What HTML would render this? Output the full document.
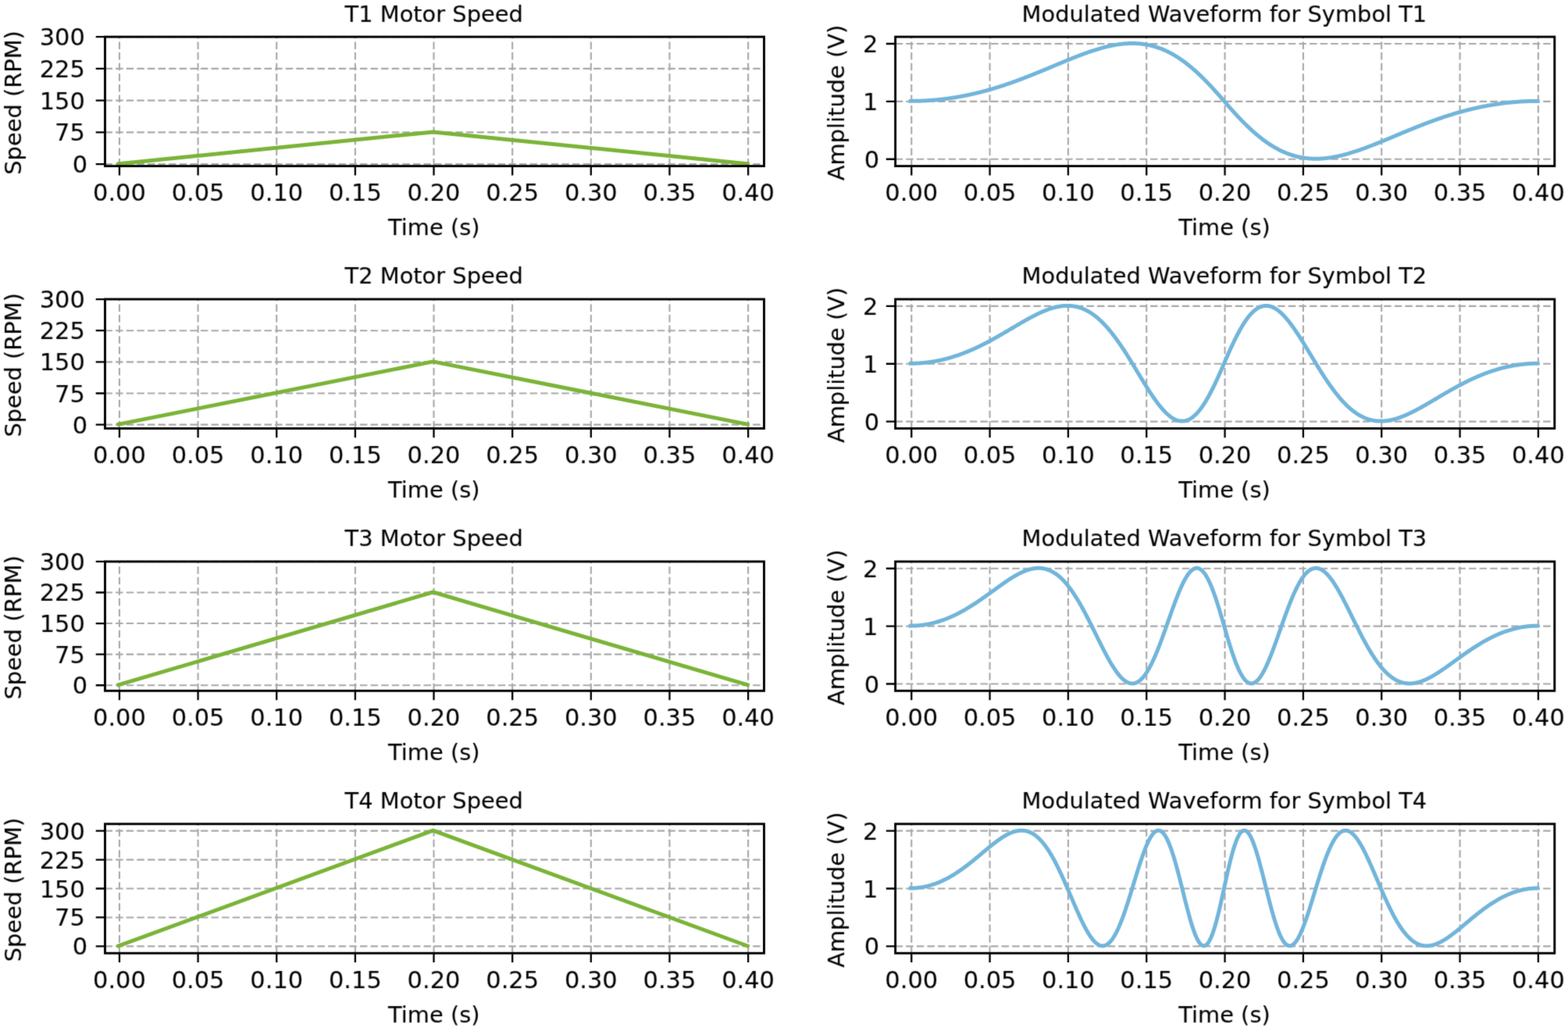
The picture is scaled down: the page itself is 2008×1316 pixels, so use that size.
<!DOCTYPE html>
<html><head><meta charset="utf-8"><title>Motor Speed and Modulated Waveforms</title>
<style>html,body{margin:0;padding:0;background:#fff;width:2008px;height:1316px;overflow:hidden}svg{display:block}</style>
</head><body><div id="w">
<svg width="2008" height="1316" viewBox="0 0 2008 1316" style="font-family:'DejaVu Sans','Liberation Sans',sans-serif">
<defs><filter id="bl" x="0" y="0" width="2008" height="1316" filterUnits="userSpaceOnUse" color-interpolation-filters="sRGB"><feConvolveMatrix order="3" kernelMatrix="0.01134 0.08382 0.01134 0.08382 0.61935 0.08382 0.01134 0.08382 0.01134" edgeMode="none" preserveAlpha="false"/></filter>
<filter id="tb" x="0" y="0" width="2008" height="1316" filterUnits="userSpaceOnUse" color-interpolation-filters="sRGB"><feConvolveMatrix order="3" kernelMatrix="0.02768 0.11101 0.02768 0.11101 0.44521 0.11101 0.02768 0.11101 0.02768" edgeMode="none" preserveAlpha="false"/></filter></defs>
<rect width="2008" height="1316" fill="#fff"/>
<g filter="url(#bl)">
<path d="M152.95 212.6V47.15M253.59 212.6V47.15M354.24 212.6V47.15M454.88 212.6V47.15M555.53 212.6V47.15M656.17 212.6V47.15M756.81 212.6V47.15M857.46 212.6V47.15M958.1 212.6V47.15M134.5 210.15H978.45M134.5 169.4H978.45M134.5 128.65H978.45M134.5 87.9H978.45M134.5 47.15H978.45" stroke="#a9a9a9" stroke-width="2.1" stroke-dasharray="9.5,4.1" fill="none"/>
<clipPath id="c00"><rect x="134.5" y="47.15" width="843.95" height="165.45"/></clipPath>
<path d="M151.95 209.65 L554.53 168.9 L957.1 209.65" stroke="#7bb438" stroke-width="5" stroke-opacity="1" fill="none" stroke-linecap="square" stroke-linejoin="round" clip-path="url(#c00)"/>
<rect x="134.5" y="47.15" width="843.95" height="165.45" fill="none" stroke="#000" stroke-width="2.9" stroke-linejoin="miter"/>
<path d="M152.95 212.6v11.8M253.59 212.6v11.8M354.24 212.6v11.8M454.88 212.6v11.8M555.53 212.6v11.8M656.17 212.6v11.8M756.81 212.6v11.8M857.46 212.6v11.8M958.1 212.6v11.8M134.5 210.15h-11.8M134.5 169.4h-11.8M134.5 128.65h-11.8M134.5 87.9h-11.8M134.5 47.15h-11.8" stroke="#000" stroke-width="2.3" fill="none"/>
<path d="M1167.25 212.6V47.15M1267.58 212.6V47.15M1367.91 212.6V47.15M1468.24 212.6V47.15M1568.58 212.6V47.15M1668.91 212.6V47.15M1769.24 212.6V47.15M1869.57 212.6V47.15M1969.9 212.6V47.15M1146.6 203.74H1990.8M1146.6 129.88H1990.8M1146.6 56.01H1990.8" stroke="#a9a9a9" stroke-width="2.1" stroke-dasharray="9.5,4.1" fill="none"/>
<clipPath id="c01"><rect x="1146.6" y="47.15" width="844.2" height="165.45"/></clipPath>
<path d="M1166.25 129.38 L1167.05 129.37 L1167.86 129.37 L1168.66 129.37 L1169.46 129.36 L1170.26 129.35 L1171.07 129.34 L1171.87 129.33 L1172.67 129.32 L1173.47 129.3 L1174.28 129.28 L1175.08 129.26 L1175.88 129.24 L1176.68 129.22 L1177.49 129.19 L1178.29 129.17 L1179.09 129.14 L1179.9 129.11 L1180.7 129.07 L1181.5 129.04 L1182.3 129 L1183.11 128.97 L1183.91 128.93 L1184.71 128.88 L1185.51 128.84 L1186.32 128.79 L1187.12 128.75 L1187.92 128.7 L1188.72 128.65 L1189.53 128.59 L1190.33 128.54 L1191.13 128.48 L1191.93 128.42 L1192.74 128.36 L1193.54 128.3 L1194.34 128.24 L1195.15 128.17 L1195.95 128.1 L1196.75 128.03 L1197.55 127.96 L1198.36 127.89 L1199.16 127.81 L1199.96 127.74 L1200.76 127.66 L1201.57 127.58 L1202.37 127.5 L1203.17 127.41 L1203.97 127.32 L1204.78 127.24 L1205.58 127.15 L1206.38 127.05 L1207.19 126.96 L1207.99 126.87 L1208.79 126.77 L1209.59 126.67 L1210.4 126.57 L1211.2 126.47 L1212 126.36 L1212.8 126.25 L1213.61 126.15 L1214.41 126.03 L1215.21 125.92 L1216.01 125.81 L1216.82 125.69 L1217.62 125.57 L1218.42 125.46 L1219.22 125.33 L1220.03 125.21 L1220.83 125.09 L1221.63 124.96 L1222.44 124.83 L1223.24 124.7 L1224.04 124.57 L1224.84 124.43 L1225.65 124.3 L1226.45 124.16 L1227.25 124.02 L1228.05 123.88 L1228.86 123.73 L1229.66 123.59 L1230.46 123.44 L1231.26 123.29 L1232.07 123.14 L1232.87 122.99 L1233.67 122.83 L1234.48 122.68 L1235.28 122.52 L1236.08 122.36 L1236.88 122.2 L1237.69 122.04 L1238.49 121.87 L1239.29 121.7 L1240.09 121.53 L1240.9 121.36 L1241.7 121.19 L1242.5 121.02 L1243.3 120.84 L1244.11 120.66 L1244.91 120.48 L1245.71 120.3 L1246.52 120.12 L1247.32 119.93 L1248.12 119.75 L1248.92 119.56 L1249.73 119.37 L1250.53 119.17 L1251.33 118.98 L1252.13 118.78 L1252.94 118.59 L1253.74 118.39 L1254.54 118.19 L1255.34 117.98 L1256.15 117.78 L1256.95 117.57 L1257.75 117.37 L1258.55 117.16 L1259.36 116.94 L1260.16 116.73 L1260.96 116.52 L1261.77 116.3 L1262.57 116.08 L1263.37 115.86 L1264.17 115.64 L1264.98 115.42 L1265.78 115.19 L1266.58 114.97 L1267.38 114.74 L1268.19 114.51 L1268.99 114.28 L1269.79 114.04 L1270.59 113.81 L1271.4 113.57 L1272.2 113.33 L1273 113.09 L1273.81 112.85 L1274.61 112.61 L1275.41 112.36 L1276.21 112.12 L1277.02 111.87 L1277.82 111.62 L1278.62 111.37 L1279.42 111.11 L1280.23 110.86 L1281.03 110.6 L1281.83 110.35 L1282.63 110.09 L1283.44 109.83 L1284.24 109.56 L1285.04 109.3 L1285.84 109.03 L1286.65 108.77 L1287.45 108.5 L1288.25 108.23 L1289.06 107.96 L1289.86 107.69 L1290.66 107.41 L1291.46 107.14 L1292.27 106.86 L1293.07 106.58 L1293.87 106.3 L1294.67 106.02 L1295.48 105.74 L1296.28 105.46 L1297.08 105.17 L1297.88 104.88 L1298.69 104.6 L1299.49 104.31 L1300.29 104.02 L1301.1 103.72 L1301.9 103.43 L1302.7 103.14 L1303.5 102.84 L1304.31 102.54 L1305.11 102.25 L1305.91 101.95 L1306.71 101.65 L1307.52 101.34 L1308.32 101.04 L1309.12 100.74 L1309.92 100.43 L1310.73 100.13 L1311.53 99.82 L1312.33 99.51 L1313.13 99.2 L1313.94 98.89 L1314.74 98.58 L1315.54 98.27 L1316.35 97.95 L1317.15 97.64 L1317.95 97.32 L1318.75 97.01 L1319.56 96.69 L1320.36 96.37 L1321.16 96.05 L1321.96 95.73 L1322.77 95.41 L1323.57 95.09 L1324.37 94.76 L1325.17 94.44 L1325.98 94.12 L1326.78 93.79 L1327.58 93.47 L1328.39 93.14 L1329.19 92.81 L1329.99 92.48 L1330.79 92.16 L1331.6 91.83 L1332.4 91.5 L1333.2 91.17 L1334 90.84 L1334.81 90.51 L1335.61 90.17 L1336.41 89.84 L1337.21 89.51 L1338.02 89.18 L1338.82 88.84 L1339.62 88.51 L1340.43 88.17 L1341.23 87.84 L1342.03 87.51 L1342.83 87.17 L1343.64 86.84 L1344.44 86.5 L1345.24 86.16 L1346.04 85.83 L1346.85 85.49 L1347.65 85.16 L1348.45 84.82 L1349.25 84.48 L1350.06 84.15 L1350.86 83.81 L1351.66 83.48 L1352.46 83.14 L1353.27 82.8 L1354.07 82.47 L1354.87 82.13 L1355.68 81.8 L1356.48 81.46 L1357.28 81.13 L1358.08 80.79 L1358.89 80.46 L1359.69 80.13 L1360.49 79.79 L1361.29 79.46 L1362.1 79.13 L1362.9 78.8 L1363.7 78.47 L1364.5 78.13 L1365.31 77.8 L1366.11 77.48 L1366.91 77.15 L1367.72 76.82 L1368.52 76.49 L1369.32 76.17 L1370.12 75.84 L1370.93 75.52 L1371.73 75.19 L1372.53 74.87 L1373.33 74.55 L1374.14 74.23 L1374.94 73.91 L1375.74 73.59 L1376.54 73.27 L1377.35 72.96 L1378.15 72.64 L1378.95 72.33 L1379.75 72.02 L1380.56 71.71 L1381.36 71.4 L1382.16 71.09 L1382.97 70.79 L1383.77 70.48 L1384.57 70.18 L1385.37 69.88 L1386.18 69.58 L1386.98 69.28 L1387.78 68.98 L1388.58 68.69 L1389.39 68.4 L1390.19 68.11 L1390.99 67.82 L1391.79 67.53 L1392.6 67.25 L1393.4 66.97 L1394.2 66.69 L1395.01 66.41 L1395.81 66.13 L1396.61 65.86 L1397.41 65.59 L1398.22 65.32 L1399.02 65.06 L1399.82 64.79 L1400.62 64.53 L1401.43 64.27 L1402.23 64.02 L1403.03 63.77 L1403.83 63.52 L1404.64 63.27 L1405.44 63.02 L1406.24 62.78 L1407.05 62.54 L1407.85 62.31 L1408.65 62.07 L1409.45 61.85 L1410.26 61.62 L1411.06 61.4 L1411.86 61.18 L1412.66 60.96 L1413.47 60.75 L1414.27 60.54 L1415.07 60.33 L1415.87 60.13 L1416.68 59.93 L1417.48 59.73 L1418.28 59.54 L1419.08 59.35 L1419.89 59.17 L1420.69 58.99 L1421.49 58.81 L1422.3 58.64 L1423.1 58.47 L1423.9 58.31 L1424.7 58.15 L1425.51 57.99 L1426.31 57.84 L1427.11 57.69 L1427.91 57.55 L1428.72 57.41 L1429.52 57.28 L1430.32 57.15 L1431.12 57.02 L1431.93 56.9 L1432.73 56.78 L1433.53 56.67 L1434.34 56.56 L1435.14 56.46 L1435.94 56.37 L1436.74 56.27 L1437.55 56.19 L1438.35 56.11 L1439.15 56.03 L1439.95 55.96 L1440.76 55.89 L1441.56 55.83 L1442.36 55.77 L1443.16 55.72 L1443.97 55.68 L1444.77 55.64 L1445.57 55.6 L1446.37 55.57 L1447.18 55.55 L1447.98 55.53 L1448.78 55.52 L1449.59 55.51 L1450.39 55.51 L1451.19 55.52 L1451.99 55.53 L1452.8 55.55 L1453.6 55.57 L1454.4 55.6 L1455.2 55.64 L1456.01 55.68 L1456.81 55.73 L1457.61 55.78 L1458.41 55.84 L1459.22 55.91 L1460.02 55.98 L1460.82 56.06 L1461.63 56.15 L1462.43 56.24 L1463.23 56.34 L1464.03 56.44 L1464.84 56.56 L1465.64 56.67 L1466.44 56.8 L1467.24 56.93 L1468.05 57.07 L1468.85 57.22 L1469.65 57.37 L1470.45 57.53 L1471.26 57.7 L1472.06 57.87 L1472.86 58.05 L1473.66 58.24 L1474.47 58.43 L1475.27 58.64 L1476.07 58.85 L1476.88 59.06 L1477.68 59.29 L1478.48 59.52 L1479.28 59.76 L1480.09 60 L1480.89 60.25 L1481.69 60.51 L1482.49 60.78 L1483.3 61.06 L1484.1 61.34 L1484.9 61.63 L1485.7 61.93 L1486.51 62.23 L1487.31 62.54 L1488.11 62.86 L1488.92 63.19 L1489.72 63.53 L1490.52 63.87 L1491.32 64.22 L1492.13 64.58 L1492.93 64.94 L1493.73 65.32 L1494.53 65.7 L1495.34 66.08 L1496.14 66.48 L1496.94 66.88 L1497.74 67.3 L1498.55 67.72 L1499.35 68.14 L1500.15 68.58 L1500.96 69.02 L1501.76 69.47 L1502.56 69.93 L1503.36 70.39 L1504.17 70.87 L1504.97 71.35 L1505.77 71.84 L1506.57 72.33 L1507.38 72.84 L1508.18 73.35 L1508.98 73.87 L1509.78 74.39 L1510.59 74.93 L1511.39 75.47 L1512.19 76.02 L1512.99 76.58 L1513.8 77.14 L1514.6 77.71 L1515.4 78.29 L1516.21 78.88 L1517.01 79.47 L1517.81 80.07 L1518.61 80.68 L1519.42 81.3 L1520.22 81.92 L1521.02 82.55 L1521.82 83.19 L1522.63 83.84 L1523.43 84.49 L1524.23 85.15 L1525.03 85.82 L1525.84 86.49 L1526.64 87.17 L1527.44 87.86 L1528.25 88.55 L1529.05 89.25 L1529.85 89.96 L1530.65 90.68 L1531.46 91.4 L1532.26 92.13 L1533.06 92.86 L1533.86 93.6 L1534.67 94.35 L1535.47 95.1 L1536.27 95.86 L1537.07 96.63 L1537.88 97.4 L1538.68 98.18 L1539.48 98.96 L1540.28 99.75 L1541.09 100.54 L1541.89 101.34 L1542.69 102.15 L1543.5 102.96 L1544.3 103.78 L1545.1 104.6 L1545.9 105.43 L1546.71 106.26 L1547.51 107.1 L1548.31 107.95 L1549.11 108.79 L1549.92 109.65 L1550.72 110.5 L1551.52 111.37 L1552.32 112.23 L1553.13 113.1 L1553.93 113.98 L1554.73 114.86 L1555.54 115.74 L1556.34 116.63 L1557.14 117.52 L1557.94 118.41 L1558.75 119.31 L1559.55 120.21 L1560.35 121.11 L1561.15 122.02 L1561.96 122.93 L1562.76 123.84 L1563.56 124.76 L1564.36 125.68 L1565.17 126.6 L1565.97 127.52 L1566.77 128.45 L1567.58 129.38 L1568.38 130.3 L1569.18 131.23 L1569.98 132.15 L1570.79 133.07 L1571.59 133.99 L1572.39 134.91 L1573.19 135.82 L1574 136.73 L1574.8 137.64 L1575.6 138.54 L1576.4 139.44 L1577.21 140.34 L1578.01 141.23 L1578.81 142.12 L1579.61 143.01 L1580.42 143.89 L1581.22 144.77 L1582.02 145.65 L1582.83 146.52 L1583.63 147.38 L1584.43 148.25 L1585.23 149.1 L1586.04 149.96 L1586.84 150.8 L1587.64 151.65 L1588.44 152.49 L1589.25 153.32 L1590.05 154.15 L1590.85 154.97 L1591.65 155.79 L1592.46 156.6 L1593.26 157.41 L1594.06 158.21 L1594.87 159 L1595.67 159.79 L1596.47 160.57 L1597.27 161.35 L1598.08 162.12 L1598.88 162.89 L1599.68 163.65 L1600.48 164.4 L1601.29 165.15 L1602.09 165.89 L1602.89 166.62 L1603.69 167.35 L1604.5 168.07 L1605.3 168.79 L1606.1 169.5 L1606.9 170.2 L1607.71 170.89 L1608.51 171.58 L1609.31 172.26 L1610.12 172.93 L1610.92 173.6 L1611.72 174.26 L1612.52 174.91 L1613.33 175.56 L1614.13 176.2 L1614.93 176.83 L1615.73 177.45 L1616.54 178.07 L1617.34 178.68 L1618.14 179.28 L1618.94 179.87 L1619.75 180.46 L1620.55 181.04 L1621.35 181.61 L1622.16 182.17 L1622.96 182.73 L1623.76 183.28 L1624.56 183.82 L1625.37 184.36 L1626.17 184.88 L1626.97 185.4 L1627.77 185.91 L1628.58 186.42 L1629.38 186.91 L1630.18 187.4 L1630.98 187.88 L1631.79 188.36 L1632.59 188.82 L1633.39 189.28 L1634.19 189.73 L1635 190.17 L1635.8 190.61 L1636.6 191.03 L1637.41 191.45 L1638.21 191.87 L1639.01 192.27 L1639.81 192.67 L1640.62 193.05 L1641.42 193.43 L1642.22 193.81 L1643.02 194.17 L1643.83 194.53 L1644.63 194.88 L1645.43 195.22 L1646.23 195.56 L1647.04 195.89 L1647.84 196.21 L1648.64 196.52 L1649.45 196.82 L1650.25 197.12 L1651.05 197.41 L1651.85 197.69 L1652.66 197.97 L1653.46 198.24 L1654.26 198.5 L1655.06 198.75 L1655.87 198.99 L1656.67 199.23 L1657.47 199.46 L1658.27 199.69 L1659.08 199.9 L1659.88 200.11 L1660.68 200.32 L1661.49 200.51 L1662.29 200.7 L1663.09 200.88 L1663.89 201.05 L1664.7 201.22 L1665.5 201.38 L1666.3 201.53 L1667.1 201.68 L1667.91 201.82 L1668.71 201.95 L1669.51 202.08 L1670.31 202.19 L1671.12 202.31 L1671.92 202.41 L1672.72 202.51 L1673.52 202.6 L1674.33 202.69 L1675.13 202.77 L1675.93 202.84 L1676.74 202.91 L1677.54 202.97 L1678.34 203.02 L1679.14 203.07 L1679.95 203.11 L1680.75 203.15 L1681.55 203.18 L1682.35 203.2 L1683.16 203.22 L1683.96 203.23 L1684.76 203.24 L1685.56 203.24 L1686.37 203.23 L1687.17 203.22 L1687.97 203.2 L1688.78 203.18 L1689.58 203.15 L1690.38 203.11 L1691.18 203.07 L1691.99 203.03 L1692.79 202.98 L1693.59 202.92 L1694.39 202.86 L1695.2 202.79 L1696 202.72 L1696.8 202.64 L1697.6 202.56 L1698.41 202.48 L1699.21 202.38 L1700.01 202.29 L1700.81 202.19 L1701.62 202.08 L1702.42 201.97 L1703.22 201.85 L1704.03 201.73 L1704.83 201.6 L1705.63 201.47 L1706.43 201.34 L1707.24 201.2 L1708.04 201.06 L1708.84 200.91 L1709.64 200.76 L1710.45 200.6 L1711.25 200.44 L1712.05 200.28 L1712.85 200.11 L1713.66 199.94 L1714.46 199.76 L1715.26 199.58 L1716.07 199.4 L1716.87 199.21 L1717.67 199.02 L1718.47 198.82 L1719.28 198.62 L1720.08 198.42 L1720.88 198.21 L1721.68 198 L1722.49 197.79 L1723.29 197.57 L1724.09 197.35 L1724.89 197.13 L1725.7 196.9 L1726.5 196.68 L1727.3 196.44 L1728.11 196.21 L1728.91 195.97 L1729.71 195.73 L1730.51 195.48 L1731.32 195.23 L1732.12 194.98 L1732.92 194.73 L1733.72 194.48 L1734.53 194.22 L1735.33 193.96 L1736.13 193.69 L1736.93 193.43 L1737.74 193.16 L1738.54 192.89 L1739.34 192.62 L1740.14 192.34 L1740.95 192.06 L1741.75 191.78 L1742.55 191.5 L1743.36 191.22 L1744.16 190.93 L1744.96 190.64 L1745.76 190.35 L1746.57 190.06 L1747.37 189.77 L1748.17 189.47 L1748.97 189.17 L1749.78 188.87 L1750.58 188.57 L1751.38 188.27 L1752.18 187.96 L1752.99 187.66 L1753.79 187.35 L1754.59 187.04 L1755.4 186.73 L1756.2 186.42 L1757 186.11 L1757.8 185.79 L1758.61 185.48 L1759.41 185.16 L1760.21 184.84 L1761.01 184.52 L1761.82 184.2 L1762.62 183.88 L1763.42 183.56 L1764.22 183.23 L1765.03 182.91 L1765.83 182.58 L1766.63 182.26 L1767.43 181.93 L1768.24 181.6 L1769.04 181.27 L1769.84 180.95 L1770.65 180.62 L1771.45 180.28 L1772.25 179.95 L1773.05 179.62 L1773.86 179.29 L1774.66 178.96 L1775.46 178.62 L1776.26 178.29 L1777.07 177.96 L1777.87 177.62 L1778.67 177.29 L1779.47 176.95 L1780.28 176.62 L1781.08 176.28 L1781.88 175.95 L1782.69 175.61 L1783.49 175.27 L1784.29 174.94 L1785.09 174.6 L1785.9 174.27 L1786.7 173.93 L1787.5 173.59 L1788.3 173.26 L1789.11 172.92 L1789.91 172.59 L1790.71 172.25 L1791.51 171.91 L1792.32 171.58 L1793.12 171.24 L1793.92 170.91 L1794.72 170.58 L1795.53 170.24 L1796.33 169.91 L1797.13 169.57 L1797.94 169.24 L1798.74 168.91 L1799.54 168.58 L1800.34 168.24 L1801.15 167.91 L1801.95 167.58 L1802.75 167.25 L1803.55 166.92 L1804.36 166.59 L1805.16 166.27 L1805.96 165.94 L1806.76 165.61 L1807.57 165.28 L1808.37 164.96 L1809.17 164.63 L1809.98 164.31 L1810.78 163.99 L1811.58 163.66 L1812.38 163.34 L1813.19 163.02 L1813.99 162.7 L1814.79 162.38 L1815.59 162.06 L1816.4 161.74 L1817.2 161.43 L1818 161.11 L1818.8 160.8 L1819.61 160.48 L1820.41 160.17 L1821.21 159.86 L1822.02 159.55 L1822.82 159.24 L1823.62 158.93 L1824.42 158.62 L1825.23 158.32 L1826.03 158.01 L1826.83 157.71 L1827.63 157.41 L1828.44 157.1 L1829.24 156.8 L1830.04 156.5 L1830.84 156.21 L1831.65 155.91 L1832.45 155.61 L1833.25 155.32 L1834.05 155.03 L1834.86 154.73 L1835.66 154.44 L1836.46 154.15 L1837.27 153.87 L1838.07 153.58 L1838.87 153.29 L1839.67 153.01 L1840.48 152.73 L1841.28 152.45 L1842.08 152.17 L1842.88 151.89 L1843.69 151.61 L1844.49 151.34 L1845.29 151.06 L1846.09 150.79 L1846.9 150.52 L1847.7 150.25 L1848.5 149.98 L1849.31 149.72 L1850.11 149.45 L1850.91 149.19 L1851.71 148.92 L1852.52 148.66 L1853.32 148.4 L1854.12 148.15 L1854.92 147.89 L1855.73 147.64 L1856.53 147.38 L1857.33 147.13 L1858.13 146.88 L1858.94 146.63 L1859.74 146.39 L1860.54 146.14 L1861.34 145.9 L1862.15 145.66 L1862.95 145.42 L1863.75 145.18 L1864.56 144.94 L1865.36 144.71 L1866.16 144.47 L1866.96 144.24 L1867.77 144.01 L1868.57 143.78 L1869.37 143.56 L1870.17 143.33 L1870.98 143.11 L1871.78 142.89 L1872.58 142.67 L1873.38 142.45 L1874.19 142.23 L1874.99 142.02 L1875.79 141.81 L1876.6 141.59 L1877.4 141.38 L1878.2 141.18 L1879 140.97 L1879.81 140.77 L1880.61 140.56 L1881.41 140.36 L1882.21 140.16 L1883.02 139.97 L1883.82 139.77 L1884.62 139.58 L1885.42 139.38 L1886.23 139.19 L1887.03 139 L1887.83 138.82 L1888.63 138.63 L1889.44 138.45 L1890.24 138.27 L1891.04 138.09 L1891.85 137.91 L1892.65 137.73 L1893.45 137.56 L1894.25 137.39 L1895.06 137.22 L1895.86 137.05 L1896.66 136.88 L1897.46 136.71 L1898.27 136.55 L1899.07 136.39 L1899.87 136.23 L1900.67 136.07 L1901.48 135.92 L1902.28 135.76 L1903.08 135.61 L1903.89 135.46 L1904.69 135.31 L1905.49 135.16 L1906.29 135.02 L1907.1 134.87 L1907.9 134.73 L1908.7 134.59 L1909.5 134.45 L1910.31 134.32 L1911.11 134.18 L1911.91 134.05 L1912.71 133.92 L1913.52 133.79 L1914.32 133.66 L1915.12 133.54 L1915.93 133.42 L1916.73 133.29 L1917.53 133.18 L1918.33 133.06 L1919.14 132.94 L1919.94 132.83 L1920.74 132.72 L1921.54 132.6 L1922.35 132.5 L1923.15 132.39 L1923.95 132.28 L1924.75 132.18 L1925.56 132.08 L1926.36 131.98 L1927.16 131.88 L1927.96 131.79 L1928.77 131.7 L1929.57 131.6 L1930.37 131.51 L1931.18 131.43 L1931.98 131.34 L1932.78 131.25 L1933.58 131.17 L1934.39 131.09 L1935.19 131.01 L1935.99 130.94 L1936.79 130.86 L1937.6 130.79 L1938.4 130.72 L1939.2 130.65 L1940 130.58 L1940.81 130.51 L1941.61 130.45 L1942.41 130.39 L1943.22 130.33 L1944.02 130.27 L1944.82 130.21 L1945.62 130.16 L1946.43 130.1 L1947.23 130.05 L1948.03 130 L1948.83 129.96 L1949.64 129.91 L1950.44 129.87 L1951.24 129.82 L1952.04 129.78 L1952.85 129.75 L1953.65 129.71 L1954.45 129.68 L1955.25 129.64 L1956.06 129.61 L1956.86 129.58 L1957.66 129.56 L1958.47 129.53 L1959.27 129.51 L1960.07 129.49 L1960.87 129.47 L1961.68 129.45 L1962.48 129.43 L1963.28 129.42 L1964.08 129.41 L1964.89 129.4 L1965.69 129.39 L1966.49 129.38 L1967.29 129.38 L1968.1 129.38 L1968.9 129.38" stroke="#72b5da" stroke-width="5" stroke-opacity="1" fill="none" stroke-linecap="square" stroke-linejoin="round" clip-path="url(#c01)"/>
<rect x="1146.6" y="47.15" width="844.2" height="165.45" fill="none" stroke="#000" stroke-width="2.9" stroke-linejoin="miter"/>
<path d="M1167.25 212.6v11.8M1267.58 212.6v11.8M1367.91 212.6v11.8M1468.24 212.6v11.8M1568.58 212.6v11.8M1668.91 212.6v11.8M1769.24 212.6v11.8M1869.57 212.6v11.8M1969.9 212.6v11.8M1146.6 203.74h-11.8M1146.6 129.88h-11.8M1146.6 56.01h-11.8" stroke="#000" stroke-width="2.3" fill="none"/>
<path d="M152.95 548.48V383.03M253.59 548.48V383.03M354.24 548.48V383.03M454.88 548.48V383.03M555.53 548.48V383.03M656.17 548.48V383.03M756.81 548.48V383.03M857.46 548.48V383.03M958.1 548.48V383.03M134.5 543.66H978.45M134.5 503.5H978.45M134.5 463.35H978.45M134.5 423.19H978.45M134.5 383.03H978.45" stroke="#a9a9a9" stroke-width="2.1" stroke-dasharray="9.5,4.1" fill="none"/>
<clipPath id="c10"><rect x="134.5" y="383.03" width="843.95" height="165.45"/></clipPath>
<path d="M151.95 543.16 L554.53 462.85 L957.1 543.16" stroke="#7bb438" stroke-width="5" stroke-opacity="1" fill="none" stroke-linecap="square" stroke-linejoin="round" clip-path="url(#c10)"/>
<rect x="134.5" y="383.03" width="843.95" height="165.45" fill="none" stroke="#000" stroke-width="2.9" stroke-linejoin="miter"/>
<path d="M152.95 548.48v11.8M253.59 548.48v11.8M354.24 548.48v11.8M454.88 548.48v11.8M555.53 548.48v11.8M656.17 548.48v11.8M756.81 548.48v11.8M857.46 548.48v11.8M958.1 548.48v11.8M134.5 543.66h-11.8M134.5 503.5h-11.8M134.5 463.35h-11.8M134.5 423.19h-11.8M134.5 383.03h-11.8" stroke="#000" stroke-width="2.3" fill="none"/>
<path d="M1167.25 548.48V383.03M1267.58 548.48V383.03M1367.91 548.48V383.03M1468.24 548.48V383.03M1568.58 548.48V383.03M1668.91 548.48V383.03M1769.24 548.48V383.03M1869.57 548.48V383.03M1969.9 548.48V383.03M1146.6 539.62H1990.8M1146.6 465.75H1990.8M1146.6 391.89H1990.8" stroke="#a9a9a9" stroke-width="2.1" stroke-dasharray="9.5,4.1" fill="none"/>
<clipPath id="c11"><rect x="1146.6" y="383.03" width="844.2" height="165.45"/></clipPath>
<path d="M1166.25 465.25 L1167.05 465.25 L1167.86 465.25 L1168.66 465.24 L1169.46 465.23 L1170.26 465.21 L1171.07 465.19 L1171.87 465.16 L1172.67 465.14 L1173.47 465.1 L1174.28 465.07 L1175.08 465.03 L1175.88 464.99 L1176.68 464.94 L1177.49 464.89 L1178.29 464.84 L1179.09 464.78 L1179.9 464.72 L1180.7 464.65 L1181.5 464.58 L1182.3 464.51 L1183.11 464.44 L1183.91 464.36 L1184.71 464.27 L1185.51 464.19 L1186.32 464.09 L1187.12 464 L1187.92 463.9 L1188.72 463.8 L1189.53 463.69 L1190.33 463.58 L1191.13 463.47 L1191.93 463.35 L1192.74 463.23 L1193.54 463.11 L1194.34 462.98 L1195.15 462.85 L1195.95 462.71 L1196.75 462.58 L1197.55 462.43 L1198.36 462.29 L1199.16 462.14 L1199.96 461.98 L1200.76 461.82 L1201.57 461.66 L1202.37 461.5 L1203.17 461.33 L1203.97 461.16 L1204.78 460.98 L1205.58 460.8 L1206.38 460.62 L1207.19 460.43 L1207.99 460.24 L1208.79 460.04 L1209.59 459.85 L1210.4 459.64 L1211.2 459.44 L1212 459.23 L1212.8 459.02 L1213.61 458.8 L1214.41 458.58 L1215.21 458.36 L1216.01 458.13 L1216.82 457.9 L1217.62 457.66 L1218.42 457.43 L1219.22 457.18 L1220.03 456.94 L1220.83 456.69 L1221.63 456.44 L1222.44 456.18 L1223.24 455.92 L1224.04 455.66 L1224.84 455.39 L1225.65 455.12 L1226.45 454.85 L1227.25 454.57 L1228.05 454.29 L1228.86 454 L1229.66 453.72 L1230.46 453.43 L1231.26 453.13 L1232.07 452.83 L1232.87 452.53 L1233.67 452.23 L1234.48 451.92 L1235.28 451.6 L1236.08 451.29 L1236.88 450.97 L1237.69 450.65 L1238.49 450.32 L1239.29 449.99 L1240.09 449.66 L1240.9 449.33 L1241.7 448.99 L1242.5 448.64 L1243.3 448.3 L1244.11 447.95 L1244.91 447.6 L1245.71 447.24 L1246.52 446.89 L1247.32 446.53 L1248.12 446.16 L1248.92 445.79 L1249.73 445.42 L1250.53 445.05 L1251.33 444.67 L1252.13 444.29 L1252.94 443.91 L1253.74 443.53 L1254.54 443.14 L1255.34 442.75 L1256.15 442.35 L1256.95 441.96 L1257.75 441.56 L1258.55 441.15 L1259.36 440.75 L1260.16 440.34 L1260.96 439.93 L1261.77 439.52 L1262.57 439.1 L1263.37 438.69 L1264.17 438.27 L1264.98 437.84 L1265.78 437.42 L1266.58 436.99 L1267.38 436.56 L1268.19 436.13 L1268.99 435.69 L1269.79 435.26 L1270.59 434.82 L1271.4 434.38 L1272.2 433.93 L1273 433.49 L1273.81 433.04 L1274.61 432.59 L1275.41 432.14 L1276.21 431.69 L1277.02 431.24 L1277.82 430.78 L1278.62 430.32 L1279.42 429.87 L1280.23 429.41 L1281.03 428.94 L1281.83 428.48 L1282.63 428.02 L1283.44 427.55 L1284.24 427.08 L1285.04 426.62 L1285.84 426.15 L1286.65 425.68 L1287.45 425.21 L1288.25 424.74 L1289.06 424.26 L1289.86 423.79 L1290.66 423.32 L1291.46 422.84 L1292.27 422.37 L1293.07 421.89 L1293.87 421.42 L1294.67 420.94 L1295.48 420.47 L1296.28 419.99 L1297.08 419.52 L1297.88 419.04 L1298.69 418.57 L1299.49 418.09 L1300.29 417.62 L1301.1 417.15 L1301.9 416.67 L1302.7 416.2 L1303.5 415.73 L1304.31 415.26 L1305.11 414.79 L1305.91 414.32 L1306.71 413.85 L1307.52 413.39 L1308.32 412.92 L1309.12 412.46 L1309.92 412 L1310.73 411.54 L1311.53 411.08 L1312.33 410.63 L1313.13 410.17 L1313.94 409.72 L1314.74 409.27 L1315.54 408.82 L1316.35 408.38 L1317.15 407.94 L1317.95 407.5 L1318.75 407.06 L1319.56 406.63 L1320.36 406.2 L1321.16 405.77 L1321.96 405.35 L1322.77 404.93 L1323.57 404.52 L1324.37 404.1 L1325.17 403.7 L1325.98 403.29 L1326.78 402.89 L1327.58 402.5 L1328.39 402.1 L1329.19 401.72 L1329.99 401.34 L1330.79 400.96 L1331.6 400.59 L1332.4 400.22 L1333.2 399.86 L1334 399.5 L1334.81 399.15 L1335.61 398.81 L1336.41 398.47 L1337.21 398.13 L1338.02 397.81 L1338.82 397.49 L1339.62 397.17 L1340.43 396.86 L1341.23 396.56 L1342.03 396.27 L1342.83 395.98 L1343.64 395.7 L1344.44 395.43 L1345.24 395.17 L1346.04 394.91 L1346.85 394.66 L1347.65 394.42 L1348.45 394.18 L1349.25 393.96 L1350.06 393.74 L1350.86 393.53 L1351.66 393.33 L1352.46 393.14 L1353.27 392.96 L1354.07 392.79 L1354.87 392.62 L1355.68 392.47 L1356.48 392.33 L1357.28 392.19 L1358.08 392.07 L1358.89 391.95 L1359.69 391.85 L1360.49 391.75 L1361.29 391.67 L1362.1 391.6 L1362.9 391.54 L1363.7 391.49 L1364.5 391.45 L1365.31 391.42 L1366.11 391.4 L1366.91 391.39 L1367.72 391.4 L1368.52 391.42 L1369.32 391.45 L1370.12 391.49 L1370.93 391.54 L1371.73 391.61 L1372.53 391.69 L1373.33 391.78 L1374.14 391.88 L1374.94 392 L1375.74 392.13 L1376.54 392.27 L1377.35 392.43 L1378.15 392.6 L1378.95 392.78 L1379.75 392.98 L1380.56 393.19 L1381.36 393.41 L1382.16 393.65 L1382.97 393.9 L1383.77 394.17 L1384.57 394.45 L1385.37 394.74 L1386.18 395.05 L1386.98 395.38 L1387.78 395.71 L1388.58 396.07 L1389.39 396.43 L1390.19 396.82 L1390.99 397.21 L1391.79 397.62 L1392.6 398.05 L1393.4 398.49 L1394.2 398.95 L1395.01 399.42 L1395.81 399.91 L1396.61 400.41 L1397.41 400.93 L1398.22 401.46 L1399.02 402.01 L1399.82 402.58 L1400.62 403.16 L1401.43 403.75 L1402.23 404.36 L1403.03 404.99 L1403.83 405.63 L1404.64 406.28 L1405.44 406.95 L1406.24 407.64 L1407.05 408.34 L1407.85 409.06 L1408.65 409.79 L1409.45 410.54 L1410.26 411.31 L1411.06 412.08 L1411.86 412.88 L1412.66 413.69 L1413.47 414.51 L1414.27 415.35 L1415.07 416.2 L1415.87 417.07 L1416.68 417.95 L1417.48 418.85 L1418.28 419.76 L1419.08 420.68 L1419.89 421.62 L1420.69 422.58 L1421.49 423.55 L1422.3 424.53 L1423.1 425.52 L1423.9 426.53 L1424.7 427.55 L1425.51 428.59 L1426.31 429.63 L1427.11 430.69 L1427.91 431.77 L1428.72 432.85 L1429.52 433.95 L1430.32 435.06 L1431.12 436.18 L1431.93 437.31 L1432.73 438.45 L1433.53 439.61 L1434.34 440.77 L1435.14 441.95 L1435.94 443.13 L1436.74 444.33 L1437.55 445.53 L1438.35 446.74 L1439.15 447.97 L1439.95 449.2 L1440.76 450.44 L1441.56 451.69 L1442.36 452.94 L1443.16 454.2 L1443.97 455.47 L1444.77 456.75 L1445.57 458.03 L1446.37 459.32 L1447.18 460.62 L1447.98 461.92 L1448.78 463.22 L1449.59 464.53 L1450.39 465.84 L1451.19 467.16 L1451.99 468.48 L1452.8 469.8 L1453.6 471.12 L1454.4 472.45 L1455.2 473.78 L1456.01 475.1 L1456.81 476.43 L1457.61 477.76 L1458.41 479.09 L1459.22 480.41 L1460.02 481.74 L1460.82 483.06 L1461.63 484.38 L1462.43 485.7 L1463.23 487.02 L1464.03 488.33 L1464.84 489.63 L1465.64 490.94 L1466.44 492.23 L1467.24 493.52 L1468.05 494.8 L1468.85 496.08 L1469.65 497.35 L1470.45 498.61 L1471.26 499.86 L1472.06 501.1 L1472.86 502.33 L1473.66 503.55 L1474.47 504.76 L1475.27 505.96 L1476.07 507.15 L1476.88 508.32 L1477.68 509.48 L1478.48 510.63 L1479.28 511.76 L1480.09 512.88 L1480.89 513.98 L1481.69 515.07 L1482.49 516.14 L1483.3 517.19 L1484.1 518.22 L1484.9 519.24 L1485.7 520.23 L1486.51 521.21 L1487.31 522.17 L1488.11 523.1 L1488.92 524.02 L1489.72 524.91 L1490.52 525.78 L1491.32 526.63 L1492.13 527.45 L1492.93 528.26 L1493.73 529.03 L1494.53 529.78 L1495.34 530.51 L1496.14 531.21 L1496.94 531.88 L1497.74 532.53 L1498.55 533.15 L1499.35 533.74 L1500.15 534.3 L1500.96 534.84 L1501.76 535.34 L1502.56 535.82 L1503.36 536.26 L1504.17 536.68 L1504.97 537.06 L1505.77 537.41 L1506.57 537.73 L1507.38 538.02 L1508.18 538.27 L1508.98 538.49 L1509.78 538.68 L1510.59 538.84 L1511.39 538.96 L1512.19 539.05 L1512.99 539.1 L1513.8 539.12 L1514.6 539.1 L1515.4 539.05 L1516.21 538.96 L1517.01 538.84 L1517.81 538.68 L1518.61 538.48 L1519.42 538.25 L1520.22 537.98 L1521.02 537.68 L1521.82 537.34 L1522.63 536.96 L1523.43 536.55 L1524.23 536.1 L1525.03 535.61 L1525.84 535.09 L1526.64 534.53 L1527.44 533.93 L1528.25 533.3 L1529.05 532.63 L1529.85 531.92 L1530.65 531.18 L1531.46 530.4 L1532.26 529.59 L1533.06 528.74 L1533.86 527.85 L1534.67 526.93 L1535.47 525.98 L1536.27 524.99 L1537.07 523.96 L1537.88 522.91 L1538.68 521.81 L1539.48 520.69 L1540.28 519.53 L1541.09 518.34 L1541.89 517.12 L1542.69 515.87 L1543.5 514.59 L1544.3 513.27 L1545.1 511.93 L1545.9 510.56 L1546.71 509.15 L1547.51 507.73 L1548.31 506.27 L1549.11 504.79 L1549.92 503.28 L1550.72 501.74 L1551.52 500.19 L1552.32 498.6 L1553.13 497 L1553.93 495.37 L1554.73 493.72 L1555.54 492.06 L1556.34 490.37 L1557.14 488.66 L1557.94 486.94 L1558.75 485.2 L1559.55 483.44 L1560.35 481.67 L1561.15 479.89 L1561.96 478.09 L1562.76 476.28 L1563.56 474.47 L1564.36 472.64 L1565.17 470.8 L1565.97 468.96 L1566.77 467.11 L1567.58 465.26 L1568.38 463.4 L1569.18 461.55 L1569.98 459.71 L1570.79 457.87 L1571.59 456.04 L1572.39 454.23 L1573.19 452.42 L1574 450.62 L1574.8 448.84 L1575.6 447.07 L1576.4 445.31 L1577.21 443.57 L1578.01 441.85 L1578.81 440.14 L1579.61 438.45 L1580.42 436.79 L1581.22 435.14 L1582.02 433.51 L1582.83 431.91 L1583.63 430.32 L1584.43 428.77 L1585.23 427.23 L1586.04 425.72 L1586.84 424.24 L1587.64 422.78 L1588.44 421.36 L1589.25 419.95 L1590.05 418.58 L1590.85 417.24 L1591.65 415.92 L1592.46 414.64 L1593.26 413.39 L1594.06 412.17 L1594.87 410.98 L1595.67 409.82 L1596.47 408.7 L1597.27 407.6 L1598.08 406.55 L1598.88 405.52 L1599.68 404.53 L1600.48 403.58 L1601.29 402.66 L1602.09 401.77 L1602.89 400.92 L1603.69 400.11 L1604.5 399.33 L1605.3 398.59 L1606.1 397.88 L1606.9 397.21 L1607.71 396.58 L1608.51 395.98 L1609.31 395.42 L1610.12 394.9 L1610.92 394.41 L1611.72 393.96 L1612.52 393.55 L1613.33 393.17 L1614.13 392.83 L1614.93 392.53 L1615.73 392.26 L1616.54 392.03 L1617.34 391.83 L1618.14 391.67 L1618.94 391.55 L1619.75 391.46 L1620.55 391.41 L1621.35 391.39 L1622.16 391.41 L1622.96 391.46 L1623.76 391.55 L1624.56 391.67 L1625.37 391.83 L1626.17 392.02 L1626.97 392.24 L1627.77 392.49 L1628.58 392.78 L1629.38 393.1 L1630.18 393.45 L1630.98 393.83 L1631.79 394.25 L1632.59 394.69 L1633.39 395.17 L1634.19 395.67 L1635 396.21 L1635.8 396.77 L1636.6 397.36 L1637.41 397.98 L1638.21 398.63 L1639.01 399.3 L1639.81 400 L1640.62 400.73 L1641.42 401.48 L1642.22 402.25 L1643.02 403.06 L1643.83 403.88 L1644.63 404.73 L1645.43 405.6 L1646.23 406.49 L1647.04 407.41 L1647.84 408.34 L1648.64 409.3 L1649.45 410.28 L1650.25 411.27 L1651.05 412.29 L1651.85 413.32 L1652.66 414.37 L1653.46 415.44 L1654.26 416.53 L1655.06 417.63 L1655.87 418.75 L1656.67 419.88 L1657.47 421.03 L1658.27 422.19 L1659.08 423.36 L1659.88 424.55 L1660.68 425.75 L1661.49 426.96 L1662.29 428.18 L1663.09 429.41 L1663.89 430.65 L1664.7 431.9 L1665.5 433.16 L1666.3 434.43 L1667.1 435.71 L1667.91 436.99 L1668.71 438.28 L1669.51 439.57 L1670.31 440.88 L1671.12 442.18 L1671.92 443.49 L1672.72 444.81 L1673.52 446.13 L1674.33 447.45 L1675.13 448.77 L1675.93 450.1 L1676.74 451.42 L1677.54 452.75 L1678.34 454.08 L1679.14 455.41 L1679.95 456.73 L1680.75 458.06 L1681.55 459.39 L1682.35 460.71 L1683.16 462.03 L1683.96 463.35 L1684.76 464.67 L1685.56 465.98 L1686.37 467.29 L1687.17 468.59 L1687.97 469.89 L1688.78 471.19 L1689.58 472.48 L1690.38 473.76 L1691.18 475.04 L1691.99 476.31 L1692.79 477.57 L1693.59 478.82 L1694.39 480.07 L1695.2 481.31 L1696 482.54 L1696.8 483.77 L1697.6 484.98 L1698.41 486.18 L1699.21 487.38 L1700.01 488.56 L1700.81 489.74 L1701.62 490.9 L1702.42 492.06 L1703.22 493.2 L1704.03 494.33 L1704.83 495.45 L1705.63 496.56 L1706.43 497.66 L1707.24 498.74 L1708.04 499.82 L1708.84 500.88 L1709.64 501.92 L1710.45 502.96 L1711.25 503.98 L1712.05 504.99 L1712.85 505.98 L1713.66 506.96 L1714.46 507.93 L1715.26 508.89 L1716.07 509.83 L1716.87 510.75 L1717.67 511.66 L1718.47 512.56 L1719.28 513.44 L1720.08 514.31 L1720.88 515.16 L1721.68 516 L1722.49 516.82 L1723.29 517.63 L1724.09 518.43 L1724.89 519.2 L1725.7 519.97 L1726.5 520.72 L1727.3 521.45 L1728.11 522.17 L1728.91 522.87 L1729.71 523.56 L1730.51 524.23 L1731.32 524.88 L1732.12 525.52 L1732.92 526.15 L1733.72 526.76 L1734.53 527.35 L1735.33 527.93 L1736.13 528.5 L1736.93 529.05 L1737.74 529.58 L1738.54 530.1 L1739.34 530.6 L1740.14 531.09 L1740.95 531.56 L1741.75 532.02 L1742.55 532.46 L1743.36 532.89 L1744.16 533.3 L1744.96 533.69 L1745.76 534.08 L1746.57 534.44 L1747.37 534.8 L1748.17 535.13 L1748.97 535.46 L1749.78 535.77 L1750.58 536.06 L1751.38 536.34 L1752.18 536.61 L1752.99 536.86 L1753.79 537.1 L1754.59 537.32 L1755.4 537.53 L1756.2 537.73 L1757 537.91 L1757.8 538.08 L1758.61 538.24 L1759.41 538.38 L1760.21 538.51 L1761.01 538.63 L1761.82 538.73 L1762.62 538.82 L1763.42 538.9 L1764.22 538.97 L1765.03 539.02 L1765.83 539.06 L1766.63 539.09 L1767.43 539.11 L1768.24 539.12 L1769.04 539.11 L1769.84 539.09 L1770.65 539.06 L1771.45 539.02 L1772.25 538.97 L1773.05 538.91 L1773.86 538.84 L1774.66 538.76 L1775.46 538.66 L1776.26 538.56 L1777.07 538.44 L1777.87 538.32 L1778.67 538.18 L1779.47 538.04 L1780.28 537.89 L1781.08 537.72 L1781.88 537.55 L1782.69 537.37 L1783.49 537.18 L1784.29 536.98 L1785.09 536.77 L1785.9 536.55 L1786.7 536.33 L1787.5 536.09 L1788.3 535.85 L1789.11 535.6 L1789.91 535.34 L1790.71 535.08 L1791.51 534.81 L1792.32 534.53 L1793.12 534.24 L1793.92 533.95 L1794.72 533.65 L1795.53 533.34 L1796.33 533.02 L1797.13 532.7 L1797.94 532.38 L1798.74 532.04 L1799.54 531.7 L1800.34 531.36 L1801.15 531.01 L1801.95 530.65 L1802.75 530.29 L1803.55 529.92 L1804.36 529.55 L1805.16 529.17 L1805.96 528.79 L1806.76 528.41 L1807.57 528.01 L1808.37 527.62 L1809.17 527.22 L1809.98 526.81 L1810.78 526.41 L1811.58 525.99 L1812.38 525.58 L1813.19 525.16 L1813.99 524.74 L1814.79 524.31 L1815.59 523.88 L1816.4 523.45 L1817.2 523.01 L1818 522.57 L1818.8 522.13 L1819.61 521.69 L1820.41 521.24 L1821.21 520.79 L1822.02 520.34 L1822.82 519.88 L1823.62 519.43 L1824.42 518.97 L1825.23 518.51 L1826.03 518.05 L1826.83 517.59 L1827.63 517.12 L1828.44 516.66 L1829.24 516.19 L1830.04 515.72 L1830.84 515.25 L1831.65 514.78 L1832.45 514.31 L1833.25 513.84 L1834.05 513.36 L1834.86 512.89 L1835.66 512.42 L1836.46 511.94 L1837.27 511.47 L1838.07 510.99 L1838.87 510.52 L1839.67 510.04 L1840.48 509.57 L1841.28 509.09 L1842.08 508.62 L1842.88 508.14 L1843.69 507.67 L1844.49 507.19 L1845.29 506.72 L1846.09 506.25 L1846.9 505.77 L1847.7 505.3 L1848.5 504.83 L1849.31 504.36 L1850.11 503.89 L1850.91 503.43 L1851.71 502.96 L1852.52 502.49 L1853.32 502.03 L1854.12 501.57 L1854.92 501.1 L1855.73 500.64 L1856.53 500.19 L1857.33 499.73 L1858.13 499.27 L1858.94 498.82 L1859.74 498.37 L1860.54 497.92 L1861.34 497.47 L1862.15 497.02 L1862.95 496.58 L1863.75 496.13 L1864.56 495.69 L1865.36 495.25 L1866.16 494.82 L1866.96 494.38 L1867.77 493.95 L1868.57 493.52 L1869.37 493.09 L1870.17 492.67 L1870.98 492.24 L1871.78 491.82 L1872.58 491.41 L1873.38 490.99 L1874.19 490.58 L1874.99 490.17 L1875.79 489.76 L1876.6 489.36 L1877.4 488.95 L1878.2 488.55 L1879 488.16 L1879.81 487.76 L1880.61 487.37 L1881.41 486.98 L1882.21 486.6 L1883.02 486.22 L1883.82 485.84 L1884.62 485.46 L1885.42 485.09 L1886.23 484.72 L1887.03 484.35 L1887.83 483.98 L1888.63 483.62 L1889.44 483.27 L1890.24 482.91 L1891.04 482.56 L1891.85 482.21 L1892.65 481.87 L1893.45 481.52 L1894.25 481.18 L1895.06 480.85 L1895.86 480.52 L1896.66 480.19 L1897.46 479.86 L1898.27 479.54 L1899.07 479.22 L1899.87 478.91 L1900.67 478.59 L1901.48 478.28 L1902.28 477.98 L1903.08 477.68 L1903.89 477.38 L1904.69 477.08 L1905.49 476.79 L1906.29 476.51 L1907.1 476.22 L1907.9 475.94 L1908.7 475.66 L1909.5 475.39 L1910.31 475.12 L1911.11 474.85 L1911.91 474.59 L1912.71 474.33 L1913.52 474.07 L1914.32 473.82 L1915.12 473.57 L1915.93 473.33 L1916.73 473.08 L1917.53 472.85 L1918.33 472.61 L1919.14 472.38 L1919.94 472.15 L1920.74 471.93 L1921.54 471.71 L1922.35 471.49 L1923.15 471.28 L1923.95 471.07 L1924.75 470.87 L1925.56 470.66 L1926.36 470.47 L1927.16 470.27 L1927.96 470.08 L1928.77 469.89 L1929.57 469.71 L1930.37 469.53 L1931.18 469.35 L1931.98 469.18 L1932.78 469.01 L1933.58 468.85 L1934.39 468.69 L1935.19 468.53 L1935.99 468.37 L1936.79 468.22 L1937.6 468.08 L1938.4 467.93 L1939.2 467.8 L1940 467.66 L1940.81 467.53 L1941.61 467.4 L1942.41 467.28 L1943.22 467.16 L1944.02 467.04 L1944.82 466.93 L1945.62 466.82 L1946.43 466.71 L1947.23 466.61 L1948.03 466.51 L1948.83 466.42 L1949.64 466.32 L1950.44 466.24 L1951.24 466.15 L1952.04 466.07 L1952.85 466 L1953.65 465.93 L1954.45 465.86 L1955.25 465.79 L1956.06 465.73 L1956.86 465.67 L1957.66 465.62 L1958.47 465.57 L1959.27 465.52 L1960.07 465.48 L1960.87 465.44 L1961.68 465.41 L1962.48 465.37 L1963.28 465.35 L1964.08 465.32 L1964.89 465.3 L1965.69 465.28 L1966.49 465.27 L1967.29 465.26 L1968.1 465.26 L1968.9 465.26" stroke="#72b5da" stroke-width="5" stroke-opacity="1" fill="none" stroke-linecap="square" stroke-linejoin="round" clip-path="url(#c11)"/>
<rect x="1146.6" y="383.03" width="844.2" height="165.45" fill="none" stroke="#000" stroke-width="2.9" stroke-linejoin="miter"/>
<path d="M1167.25 548.48v11.8M1267.58 548.48v11.8M1367.91 548.48v11.8M1468.24 548.48v11.8M1568.58 548.48v11.8M1668.91 548.48v11.8M1769.24 548.48v11.8M1869.57 548.48v11.8M1969.9 548.48v11.8M1146.6 539.62h-11.8M1146.6 465.75h-11.8M1146.6 391.89h-11.8" stroke="#000" stroke-width="2.3" fill="none"/>
<path d="M152.95 884.36V718.91M253.59 884.36V718.91M354.24 884.36V718.91M454.88 884.36V718.91M555.53 884.36V718.91M656.17 884.36V718.91M756.81 884.36V718.91M857.46 884.36V718.91M958.1 884.36V718.91M134.5 877.24H978.45M134.5 837.65H978.45M134.5 798.07H978.45M134.5 758.49H978.45M134.5 718.91H978.45" stroke="#a9a9a9" stroke-width="2.1" stroke-dasharray="9.5,4.1" fill="none"/>
<clipPath id="c20"><rect x="134.5" y="718.91" width="843.95" height="165.45"/></clipPath>
<path d="M151.95 876.74 L554.53 757.99 L957.1 876.74" stroke="#7bb438" stroke-width="5" stroke-opacity="1" fill="none" stroke-linecap="square" stroke-linejoin="round" clip-path="url(#c20)"/>
<rect x="134.5" y="718.91" width="843.95" height="165.45" fill="none" stroke="#000" stroke-width="2.9" stroke-linejoin="miter"/>
<path d="M152.95 884.36v11.8M253.59 884.36v11.8M354.24 884.36v11.8M454.88 884.36v11.8M555.53 884.36v11.8M656.17 884.36v11.8M756.81 884.36v11.8M857.46 884.36v11.8M958.1 884.36v11.8M134.5 877.24h-11.8M134.5 837.65h-11.8M134.5 798.07h-11.8M134.5 758.49h-11.8M134.5 718.91h-11.8" stroke="#000" stroke-width="2.3" fill="none"/>
<path d="M1167.25 884.36V718.91M1267.58 884.36V718.91M1367.91 884.36V718.91M1468.24 884.36V718.91M1568.58 884.36V718.91M1668.91 884.36V718.91M1769.24 884.36V718.91M1869.57 884.36V718.91M1969.9 884.36V718.91M1146.6 875.5H1990.8M1146.6 801.63H1990.8M1146.6 727.77H1990.8" stroke="#a9a9a9" stroke-width="2.1" stroke-dasharray="9.5,4.1" fill="none"/>
<clipPath id="c21"><rect x="1146.6" y="718.91" width="844.2" height="165.45"/></clipPath>
<path d="M1166.25 801.13 L1167.05 801.13 L1167.86 801.12 L1168.66 801.11 L1169.46 801.09 L1170.26 801.07 L1171.07 801.03 L1171.87 801 L1172.67 800.96 L1173.47 800.91 L1174.28 800.86 L1175.08 800.8 L1175.88 800.73 L1176.68 800.66 L1177.49 800.59 L1178.29 800.51 L1179.09 800.42 L1179.9 800.33 L1180.7 800.23 L1181.5 800.13 L1182.3 800.02 L1183.11 799.91 L1183.91 799.79 L1184.71 799.66 L1185.51 799.53 L1186.32 799.39 L1187.12 799.25 L1187.92 799.11 L1188.72 798.95 L1189.53 798.79 L1190.33 798.63 L1191.13 798.46 L1191.93 798.28 L1192.74 798.1 L1193.54 797.92 L1194.34 797.73 L1195.15 797.53 L1195.95 797.32 L1196.75 797.12 L1197.55 796.9 L1198.36 796.68 L1199.16 796.46 L1199.96 796.23 L1200.76 795.99 L1201.57 795.75 L1202.37 795.5 L1203.17 795.25 L1203.97 794.99 L1204.78 794.73 L1205.58 794.46 L1206.38 794.18 L1207.19 793.9 L1207.99 793.62 L1208.79 793.33 L1209.59 793.03 L1210.4 792.73 L1211.2 792.42 L1212 792.11 L1212.8 791.79 L1213.61 791.47 L1214.41 791.14 L1215.21 790.81 L1216.01 790.47 L1216.82 790.12 L1217.62 789.77 L1218.42 789.42 L1219.22 789.06 L1220.03 788.69 L1220.83 788.32 L1221.63 787.95 L1222.44 787.57 L1223.24 787.18 L1224.04 786.79 L1224.84 786.4 L1225.65 786 L1226.45 785.59 L1227.25 785.18 L1228.05 784.76 L1228.86 784.34 L1229.66 783.92 L1230.46 783.49 L1231.26 783.05 L1232.07 782.61 L1232.87 782.17 L1233.67 781.72 L1234.48 781.26 L1235.28 780.81 L1236.08 780.34 L1236.88 779.88 L1237.69 779.41 L1238.49 778.93 L1239.29 778.45 L1240.09 777.96 L1240.9 777.48 L1241.7 776.98 L1242.5 776.49 L1243.3 775.99 L1244.11 775.48 L1244.91 774.97 L1245.71 774.46 L1246.52 773.94 L1247.32 773.43 L1248.12 772.9 L1248.92 772.38 L1249.73 771.85 L1250.53 771.31 L1251.33 770.78 L1252.13 770.24 L1252.94 769.69 L1253.74 769.15 L1254.54 768.6 L1255.34 768.05 L1256.15 767.49 L1256.95 766.94 L1257.75 766.38 L1258.55 765.82 L1259.36 765.25 L1260.16 764.69 L1260.96 764.12 L1261.77 763.55 L1262.57 762.98 L1263.37 762.41 L1264.17 761.83 L1264.98 761.26 L1265.78 760.68 L1266.58 760.1 L1267.38 759.52 L1268.19 758.94 L1268.99 758.36 L1269.79 757.78 L1270.59 757.2 L1271.4 756.61 L1272.2 756.03 L1273 755.45 L1273.81 754.87 L1274.61 754.29 L1275.41 753.71 L1276.21 753.13 L1277.02 752.55 L1277.82 751.97 L1278.62 751.39 L1279.42 750.82 L1280.23 750.24 L1281.03 749.67 L1281.83 749.1 L1282.63 748.53 L1283.44 747.97 L1284.24 747.4 L1285.04 746.84 L1285.84 746.28 L1286.65 745.73 L1287.45 745.18 L1288.25 744.63 L1289.06 744.09 L1289.86 743.55 L1290.66 743.02 L1291.46 742.49 L1292.27 741.96 L1293.07 741.44 L1293.87 740.92 L1294.67 740.41 L1295.48 739.91 L1296.28 739.41 L1297.08 738.92 L1297.88 738.43 L1298.69 737.95 L1299.49 737.48 L1300.29 737.01 L1301.1 736.56 L1301.9 736.11 L1302.7 735.66 L1303.5 735.23 L1304.31 734.8 L1305.11 734.39 L1305.91 733.98 L1306.71 733.58 L1307.52 733.19 L1308.32 732.81 L1309.12 732.44 L1309.92 732.08 L1310.73 731.73 L1311.53 731.4 L1312.33 731.07 L1313.13 730.76 L1313.94 730.45 L1314.74 730.16 L1315.54 729.88 L1316.35 729.62 L1317.15 729.36 L1317.95 729.12 L1318.75 728.89 L1319.56 728.68 L1320.36 728.48 L1321.16 728.3 L1321.96 728.12 L1322.77 727.97 L1323.57 727.83 L1324.37 727.7 L1325.17 727.59 L1325.98 727.5 L1326.78 727.42 L1327.58 727.36 L1328.39 727.31 L1329.19 727.28 L1329.99 727.27 L1330.79 727.28 L1331.6 727.3 L1332.4 727.35 L1333.2 727.41 L1334 727.49 L1334.81 727.58 L1335.61 727.7 L1336.41 727.84 L1337.21 727.99 L1338.02 728.17 L1338.82 728.36 L1339.62 728.58 L1340.43 728.81 L1341.23 729.07 L1342.03 729.34 L1342.83 729.64 L1343.64 729.96 L1344.44 730.3 L1345.24 730.66 L1346.04 731.04 L1346.85 731.45 L1347.65 731.87 L1348.45 732.32 L1349.25 732.79 L1350.06 733.28 L1350.86 733.8 L1351.66 734.34 L1352.46 734.9 L1353.27 735.48 L1354.07 736.09 L1354.87 736.71 L1355.68 737.37 L1356.48 738.04 L1357.28 738.74 L1358.08 739.46 L1358.89 740.2 L1359.69 740.97 L1360.49 741.76 L1361.29 742.57 L1362.1 743.41 L1362.9 744.27 L1363.7 745.15 L1364.5 746.06 L1365.31 746.98 L1366.11 747.93 L1366.91 748.91 L1367.72 749.9 L1368.52 750.92 L1369.32 751.96 L1370.12 753.02 L1370.93 754.11 L1371.73 755.21 L1372.53 756.34 L1373.33 757.49 L1374.14 758.66 L1374.94 759.85 L1375.74 761.06 L1376.54 762.29 L1377.35 763.54 L1378.15 764.81 L1378.95 766.1 L1379.75 767.41 L1380.56 768.74 L1381.36 770.08 L1382.16 771.45 L1382.97 772.83 L1383.77 774.22 L1384.57 775.64 L1385.37 777.07 L1386.18 778.51 L1386.98 779.97 L1387.78 781.45 L1388.58 782.93 L1389.39 784.44 L1390.19 785.95 L1390.99 787.48 L1391.79 789.02 L1392.6 790.56 L1393.4 792.12 L1394.2 793.69 L1395.01 795.27 L1395.81 796.86 L1396.61 798.45 L1397.41 800.05 L1398.22 801.66 L1399.02 803.27 L1399.82 804.89 L1400.62 806.51 L1401.43 808.13 L1402.23 809.75 L1403.03 811.38 L1403.83 813.01 L1404.64 814.64 L1405.44 816.26 L1406.24 817.88 L1407.05 819.5 L1407.85 821.12 L1408.65 822.73 L1409.45 824.34 L1410.26 825.93 L1411.06 827.53 L1411.86 829.11 L1412.66 830.68 L1413.47 832.24 L1414.27 833.79 L1415.07 835.33 L1415.87 836.85 L1416.68 838.36 L1417.48 839.85 L1418.28 841.33 L1419.08 842.79 L1419.89 844.22 L1420.69 845.64 L1421.49 847.04 L1422.3 848.42 L1423.1 849.77 L1423.9 851.1 L1424.7 852.4 L1425.51 853.68 L1426.31 854.93 L1427.11 856.15 L1427.91 857.35 L1428.72 858.51 L1429.52 859.64 L1430.32 860.74 L1431.12 861.8 L1431.93 862.83 L1432.73 863.83 L1433.53 864.79 L1434.34 865.71 L1435.14 866.6 L1435.94 867.44 L1436.74 868.24 L1437.55 869.01 L1438.35 869.73 L1439.15 870.41 L1439.95 871.04 L1440.76 871.63 L1441.56 872.18 L1442.36 872.68 L1443.16 873.13 L1443.97 873.54 L1444.77 873.89 L1445.57 874.2 L1446.37 874.46 L1447.18 874.67 L1447.98 874.83 L1448.78 874.93 L1449.59 874.99 L1450.39 874.99 L1451.19 874.94 L1451.99 874.84 L1452.8 874.68 L1453.6 874.47 L1454.4 874.21 L1455.2 873.89 L1456.01 873.52 L1456.81 873.09 L1457.61 872.6 L1458.41 872.07 L1459.22 871.47 L1460.02 870.83 L1460.82 870.12 L1461.63 869.37 L1462.43 868.55 L1463.23 867.69 L1464.03 866.77 L1464.84 865.79 L1465.64 864.76 L1466.44 863.68 L1467.24 862.55 L1468.05 861.36 L1468.85 860.12 L1469.65 858.84 L1470.45 857.5 L1471.26 856.11 L1472.06 854.67 L1472.86 853.18 L1473.66 851.65 L1474.47 850.07 L1475.27 848.45 L1476.07 846.78 L1476.88 845.07 L1477.68 843.32 L1478.48 841.52 L1479.28 839.69 L1480.09 837.82 L1480.89 835.91 L1481.69 833.97 L1482.49 831.99 L1483.3 829.98 L1484.1 827.94 L1484.9 825.87 L1485.7 823.77 L1486.51 821.65 L1487.31 819.5 L1488.11 817.34 L1488.92 815.15 L1489.72 812.94 L1490.52 810.72 L1491.32 808.48 L1492.13 806.23 L1492.93 803.97 L1493.73 801.7 L1494.53 799.42 L1495.34 797.15 L1496.14 794.87 L1496.94 792.59 L1497.74 790.31 L1498.55 788.04 L1499.35 785.77 L1500.15 783.52 L1500.96 781.27 L1501.76 779.04 L1502.56 776.83 L1503.36 774.64 L1504.17 772.46 L1504.97 770.32 L1505.77 768.19 L1506.57 766.1 L1507.38 764.04 L1508.18 762.01 L1508.98 760.01 L1509.78 758.06 L1510.59 756.14 L1511.39 754.27 L1512.19 752.44 L1512.99 750.66 L1513.8 748.93 L1514.6 747.25 L1515.4 745.62 L1516.21 744.05 L1517.01 742.54 L1517.81 741.09 L1518.61 739.7 L1519.42 738.38 L1520.22 737.12 L1521.02 735.93 L1521.82 734.81 L1522.63 733.76 L1523.43 732.78 L1524.23 731.88 L1525.03 731.05 L1525.84 730.31 L1526.64 729.64 L1527.44 729.05 L1528.25 728.55 L1529.05 728.12 L1529.85 727.79 L1530.65 727.53 L1531.46 727.36 L1532.26 727.28 L1533.06 727.29 L1533.86 727.38 L1534.67 727.56 L1535.47 727.83 L1536.27 728.19 L1537.07 728.64 L1537.88 729.18 L1538.68 729.8 L1539.48 730.52 L1540.28 731.32 L1541.09 732.21 L1541.89 733.19 L1542.69 734.26 L1543.5 735.41 L1544.3 736.64 L1545.1 737.97 L1545.9 739.37 L1546.71 740.85 L1547.51 742.42 L1548.31 744.06 L1549.11 745.78 L1549.92 747.58 L1550.72 749.45 L1551.52 751.39 L1552.32 753.4 L1553.13 755.48 L1553.93 757.62 L1554.73 759.82 L1555.54 762.09 L1556.34 764.41 L1557.14 766.78 L1557.94 769.21 L1558.75 771.68 L1559.55 774.2 L1560.35 776.77 L1561.15 779.37 L1561.96 782 L1562.76 784.67 L1563.56 787.36 L1564.36 790.08 L1565.17 792.82 L1565.97 795.58 L1566.77 798.35 L1567.58 801.13 L1568.38 803.92 L1569.18 806.69 L1569.98 809.45 L1570.79 812.19 L1571.59 814.91 L1572.39 817.6 L1573.19 820.27 L1574 822.9 L1574.8 825.5 L1575.6 828.07 L1576.4 830.59 L1577.21 833.06 L1578.01 835.49 L1578.81 837.86 L1579.61 840.18 L1580.42 842.45 L1581.22 844.65 L1582.02 846.79 L1582.83 848.87 L1583.63 850.88 L1584.43 852.82 L1585.23 854.69 L1586.04 856.49 L1586.84 858.21 L1587.64 859.85 L1588.44 861.42 L1589.25 862.9 L1590.05 864.3 L1590.85 865.63 L1591.65 866.86 L1592.46 868.01 L1593.26 869.08 L1594.06 870.06 L1594.87 870.95 L1595.67 871.75 L1596.47 872.47 L1597.27 873.09 L1598.08 873.63 L1598.88 874.08 L1599.68 874.44 L1600.48 874.71 L1601.29 874.89 L1602.09 874.98 L1602.89 874.99 L1603.69 874.91 L1604.5 874.74 L1605.3 874.48 L1606.1 874.15 L1606.9 873.72 L1607.71 873.22 L1608.51 872.63 L1609.31 871.96 L1610.12 871.22 L1610.92 870.39 L1611.72 869.49 L1612.52 868.51 L1613.33 867.46 L1614.13 866.34 L1614.93 865.15 L1615.73 863.89 L1616.54 862.57 L1617.34 861.18 L1618.14 859.73 L1618.94 858.22 L1619.75 856.65 L1620.55 855.02 L1621.35 853.34 L1622.16 851.61 L1622.96 849.83 L1623.76 848 L1624.56 846.13 L1625.37 844.21 L1626.17 842.26 L1626.97 840.26 L1627.77 838.23 L1628.58 836.17 L1629.38 834.08 L1630.18 831.95 L1630.98 829.81 L1631.79 827.63 L1632.59 825.44 L1633.39 823.23 L1634.19 821 L1635 818.75 L1635.8 816.5 L1636.6 814.23 L1637.41 811.96 L1638.21 809.68 L1639.01 807.4 L1639.81 805.12 L1640.62 802.85 L1641.42 800.57 L1642.22 798.3 L1643.02 796.04 L1643.83 793.79 L1644.63 791.55 L1645.43 789.33 L1646.23 787.12 L1647.04 784.93 L1647.84 782.77 L1648.64 780.62 L1649.45 778.5 L1650.25 776.4 L1651.05 774.33 L1651.85 772.29 L1652.66 770.28 L1653.46 768.3 L1654.26 766.36 L1655.06 764.45 L1655.87 762.58 L1656.67 760.75 L1657.47 758.95 L1658.27 757.2 L1659.08 755.49 L1659.88 753.82 L1660.68 752.2 L1661.49 750.62 L1662.29 749.09 L1663.09 747.6 L1663.89 746.16 L1664.7 744.77 L1665.5 743.43 L1666.3 742.15 L1667.1 740.91 L1667.91 739.72 L1668.71 738.59 L1669.51 737.51 L1670.31 736.48 L1671.12 735.5 L1671.92 734.58 L1672.72 733.72 L1673.52 732.9 L1674.33 732.15 L1675.13 731.44 L1675.93 730.8 L1676.74 730.2 L1677.54 729.67 L1678.34 729.18 L1679.14 728.75 L1679.95 728.38 L1680.75 728.06 L1681.55 727.8 L1682.35 727.59 L1683.16 727.43 L1683.96 727.33 L1684.76 727.28 L1685.56 727.28 L1686.37 727.34 L1687.17 727.44 L1687.97 727.6 L1688.78 727.81 L1689.58 728.07 L1690.38 728.38 L1691.18 728.73 L1691.99 729.14 L1692.79 729.59 L1693.59 730.09 L1694.39 730.64 L1695.2 731.23 L1696 731.86 L1696.8 732.54 L1697.6 733.26 L1698.41 734.03 L1699.21 734.83 L1700.01 735.67 L1700.81 736.56 L1701.62 737.48 L1702.42 738.44 L1703.22 739.44 L1704.03 740.47 L1704.83 741.53 L1705.63 742.63 L1706.43 743.76 L1707.24 744.92 L1708.04 746.12 L1708.84 747.34 L1709.64 748.59 L1710.45 749.87 L1711.25 751.17 L1712.05 752.5 L1712.85 753.85 L1713.66 755.23 L1714.46 756.63 L1715.26 758.05 L1716.07 759.48 L1716.87 760.94 L1717.67 762.42 L1718.47 763.91 L1719.28 765.42 L1720.08 766.94 L1720.88 768.48 L1721.68 770.03 L1722.49 771.59 L1723.29 773.16 L1724.09 774.74 L1724.89 776.34 L1725.7 777.93 L1726.5 779.54 L1727.3 781.15 L1728.11 782.77 L1728.91 784.39 L1729.71 786.01 L1730.51 787.63 L1731.32 789.26 L1732.12 790.89 L1732.92 792.52 L1733.72 794.14 L1734.53 795.76 L1735.33 797.38 L1736.13 799 L1736.93 800.61 L1737.74 802.22 L1738.54 803.82 L1739.34 805.41 L1740.14 807 L1740.95 808.58 L1741.75 810.15 L1742.55 811.71 L1743.36 813.25 L1744.16 814.79 L1744.96 816.32 L1745.76 817.83 L1746.57 819.34 L1747.37 820.82 L1748.17 822.3 L1748.97 823.76 L1749.78 825.2 L1750.58 826.63 L1751.38 828.05 L1752.18 829.44 L1752.99 830.82 L1753.79 832.19 L1754.59 833.53 L1755.4 834.86 L1756.2 836.17 L1757 837.46 L1757.8 838.73 L1758.61 839.98 L1759.41 841.21 L1760.21 842.42 L1761.01 843.61 L1761.82 844.78 L1762.62 845.93 L1763.42 847.06 L1764.22 848.16 L1765.03 849.25 L1765.83 850.31 L1766.63 851.35 L1767.43 852.37 L1768.24 853.36 L1769.04 854.34 L1769.84 855.29 L1770.65 856.21 L1771.45 857.12 L1772.25 858 L1773.05 858.86 L1773.86 859.7 L1774.66 860.51 L1775.46 861.3 L1776.26 862.07 L1777.07 862.81 L1777.87 863.53 L1778.67 864.23 L1779.47 864.9 L1780.28 865.56 L1781.08 866.18 L1781.88 866.79 L1782.69 867.37 L1783.49 867.93 L1784.29 868.47 L1785.09 868.99 L1785.9 869.48 L1786.7 869.95 L1787.5 870.4 L1788.3 870.82 L1789.11 871.23 L1789.91 871.61 L1790.71 871.97 L1791.51 872.31 L1792.32 872.63 L1793.12 872.93 L1793.92 873.2 L1794.72 873.46 L1795.53 873.69 L1796.33 873.91 L1797.13 874.1 L1797.94 874.28 L1798.74 874.43 L1799.54 874.57 L1800.34 874.69 L1801.15 874.78 L1801.95 874.86 L1802.75 874.92 L1803.55 874.97 L1804.36 874.99 L1805.16 875 L1805.96 874.99 L1806.76 874.96 L1807.57 874.91 L1808.37 874.85 L1809.17 874.77 L1809.98 874.68 L1810.78 874.57 L1811.58 874.44 L1812.38 874.3 L1813.19 874.15 L1813.99 873.97 L1814.79 873.79 L1815.59 873.59 L1816.4 873.38 L1817.2 873.15 L1818 872.91 L1818.8 872.65 L1819.61 872.39 L1820.41 872.11 L1821.21 871.82 L1822.02 871.51 L1822.82 871.2 L1823.62 870.87 L1824.42 870.54 L1825.23 870.19 L1826.03 869.83 L1826.83 869.46 L1827.63 869.08 L1828.44 868.69 L1829.24 868.29 L1830.04 867.88 L1830.84 867.47 L1831.65 867.04 L1832.45 866.61 L1833.25 866.16 L1834.05 865.71 L1834.86 865.26 L1835.66 864.79 L1836.46 864.32 L1837.27 863.84 L1838.07 863.35 L1838.87 862.86 L1839.67 862.36 L1840.48 861.86 L1841.28 861.35 L1842.08 860.83 L1842.88 860.31 L1843.69 859.78 L1844.49 859.25 L1845.29 858.72 L1846.09 858.18 L1846.9 857.64 L1847.7 857.09 L1848.5 856.54 L1849.31 855.99 L1850.11 855.43 L1850.91 854.87 L1851.71 854.3 L1852.52 853.74 L1853.32 853.17 L1854.12 852.6 L1854.92 852.03 L1855.73 851.45 L1856.53 850.88 L1857.33 850.3 L1858.13 849.72 L1858.94 849.14 L1859.74 848.56 L1860.54 847.98 L1861.34 847.4 L1862.15 846.82 L1862.95 846.24 L1863.75 845.66 L1864.56 845.07 L1865.36 844.49 L1866.16 843.91 L1866.96 843.33 L1867.77 842.75 L1868.57 842.17 L1869.37 841.59 L1870.17 841.01 L1870.98 840.44 L1871.78 839.86 L1872.58 839.29 L1873.38 838.72 L1874.19 838.15 L1874.99 837.58 L1875.79 837.02 L1876.6 836.45 L1877.4 835.89 L1878.2 835.33 L1879 834.78 L1879.81 834.22 L1880.61 833.67 L1881.41 833.12 L1882.21 832.58 L1883.02 832.03 L1883.82 831.49 L1884.62 830.96 L1885.42 830.42 L1886.23 829.89 L1887.03 829.37 L1887.83 828.84 L1888.63 828.33 L1889.44 827.81 L1890.24 827.3 L1891.04 826.79 L1891.85 826.28 L1892.65 825.78 L1893.45 825.29 L1894.25 824.79 L1895.06 824.31 L1895.86 823.82 L1896.66 823.34 L1897.46 822.86 L1898.27 822.39 L1899.07 821.93 L1899.87 821.46 L1900.67 821.01 L1901.48 820.55 L1902.28 820.1 L1903.08 819.66 L1903.89 819.22 L1904.69 818.78 L1905.49 818.35 L1906.29 817.93 L1907.1 817.51 L1907.9 817.09 L1908.7 816.68 L1909.5 816.27 L1910.31 815.87 L1911.11 815.48 L1911.91 815.09 L1912.71 814.7 L1913.52 814.32 L1914.32 813.95 L1915.12 813.58 L1915.93 813.21 L1916.73 812.85 L1917.53 812.5 L1918.33 812.15 L1919.14 811.8 L1919.94 811.46 L1920.74 811.13 L1921.54 810.8 L1922.35 810.48 L1923.15 810.16 L1923.95 809.85 L1924.75 809.54 L1925.56 809.24 L1926.36 808.94 L1927.16 808.65 L1927.96 808.37 L1928.77 808.09 L1929.57 807.81 L1930.37 807.54 L1931.18 807.28 L1931.98 807.02 L1932.78 806.77 L1933.58 806.52 L1934.39 806.28 L1935.19 806.04 L1935.99 805.81 L1936.79 805.59 L1937.6 805.37 L1938.4 805.15 L1939.2 804.95 L1940 804.74 L1940.81 804.54 L1941.61 804.35 L1942.41 804.17 L1943.22 803.99 L1944.02 803.81 L1944.82 803.64 L1945.62 803.48 L1946.43 803.32 L1947.23 803.16 L1948.03 803.02 L1948.83 802.88 L1949.64 802.74 L1950.44 802.61 L1951.24 802.48 L1952.04 802.36 L1952.85 802.25 L1953.65 802.14 L1954.45 802.04 L1955.25 801.94 L1956.06 801.85 L1956.86 801.76 L1957.66 801.68 L1958.47 801.61 L1959.27 801.54 L1960.07 801.47 L1960.87 801.41 L1961.68 801.36 L1962.48 801.31 L1963.28 801.27 L1964.08 801.24 L1964.89 801.2 L1965.69 801.18 L1966.49 801.16 L1967.29 801.15 L1968.1 801.14 L1968.9 801.13" stroke="#72b5da" stroke-width="5" stroke-opacity="1" fill="none" stroke-linecap="square" stroke-linejoin="round" clip-path="url(#c21)"/>
<rect x="1146.6" y="718.91" width="844.2" height="165.45" fill="none" stroke="#000" stroke-width="2.9" stroke-linejoin="miter"/>
<path d="M1167.25 884.36v11.8M1267.58 884.36v11.8M1367.91 884.36v11.8M1468.24 884.36v11.8M1568.58 884.36v11.8M1668.91 884.36v11.8M1769.24 884.36v11.8M1869.57 884.36v11.8M1969.9 884.36v11.8M1146.6 875.5h-11.8M1146.6 801.63h-11.8M1146.6 727.77h-11.8" stroke="#000" stroke-width="2.3" fill="none"/>
<path d="M152.95 1220.24V1054.79M253.59 1220.24V1054.79M354.24 1220.24V1054.79M454.88 1220.24V1054.79M555.53 1220.24V1054.79M656.17 1220.24V1054.79M756.81 1220.24V1054.79M857.46 1220.24V1054.79M958.1 1220.24V1054.79M134.5 1211.38H978.45M134.5 1174.45H978.45M134.5 1137.52H978.45M134.5 1100.58H978.45M134.5 1063.65H978.45" stroke="#a9a9a9" stroke-width="2.1" stroke-dasharray="9.5,4.1" fill="none"/>
<clipPath id="c30"><rect x="134.5" y="1054.79" width="843.95" height="165.45"/></clipPath>
<path d="M151.95 1210.88 L554.53 1063.15 L957.1 1210.88" stroke="#7bb438" stroke-width="5" stroke-opacity="1" fill="none" stroke-linecap="square" stroke-linejoin="round" clip-path="url(#c30)"/>
<rect x="134.5" y="1054.79" width="843.95" height="165.45" fill="none" stroke="#000" stroke-width="2.9" stroke-linejoin="miter"/>
<path d="M152.95 1220.24v11.8M253.59 1220.24v11.8M354.24 1220.24v11.8M454.88 1220.24v11.8M555.53 1220.24v11.8M656.17 1220.24v11.8M756.81 1220.24v11.8M857.46 1220.24v11.8M958.1 1220.24v11.8M134.5 1211.38h-11.8M134.5 1174.45h-11.8M134.5 1137.52h-11.8M134.5 1100.58h-11.8M134.5 1063.65h-11.8" stroke="#000" stroke-width="2.3" fill="none"/>
<path d="M1167.25 1220.24V1054.79M1267.58 1220.24V1054.79M1367.91 1220.24V1054.79M1468.24 1220.24V1054.79M1568.58 1220.24V1054.79M1668.91 1220.24V1054.79M1769.24 1220.24V1054.79M1869.57 1220.24V1054.79M1969.9 1220.24V1054.79M1146.6 1211.38H1990.8M1146.6 1137.52H1990.8M1146.6 1063.65H1990.8" stroke="#a9a9a9" stroke-width="2.1" stroke-dasharray="9.5,4.1" fill="none"/>
<clipPath id="c31"><rect x="1146.6" y="1054.79" width="844.2" height="165.45"/></clipPath>
<path d="M1166.25 1137.02 L1167.05 1137.01 L1167.86 1137 L1168.66 1136.98 L1169.46 1136.96 L1170.26 1136.92 L1171.07 1136.88 L1171.87 1136.83 L1172.67 1136.78 L1173.47 1136.71 L1174.28 1136.64 L1175.08 1136.57 L1175.88 1136.48 L1176.68 1136.39 L1177.49 1136.29 L1178.29 1136.18 L1179.09 1136.06 L1179.9 1135.94 L1180.7 1135.81 L1181.5 1135.67 L1182.3 1135.53 L1183.11 1135.38 L1183.91 1135.22 L1184.71 1135.05 L1185.51 1134.88 L1186.32 1134.69 L1187.12 1134.51 L1187.92 1134.31 L1188.72 1134.11 L1189.53 1133.89 L1190.33 1133.67 L1191.13 1133.45 L1191.93 1133.21 L1192.74 1132.97 L1193.54 1132.73 L1194.34 1132.47 L1195.15 1132.21 L1195.95 1131.94 L1196.75 1131.66 L1197.55 1131.37 L1198.36 1131.08 L1199.16 1130.78 L1199.96 1130.47 L1200.76 1130.16 L1201.57 1129.84 L1202.37 1129.51 L1203.17 1129.17 L1203.97 1128.83 L1204.78 1128.48 L1205.58 1128.12 L1206.38 1127.76 L1207.19 1127.39 L1207.99 1127.01 L1208.79 1126.62 L1209.59 1126.23 L1210.4 1125.83 L1211.2 1125.42 L1212 1125.01 L1212.8 1124.58 L1213.61 1124.16 L1214.41 1123.72 L1215.21 1123.28 L1216.01 1122.83 L1216.82 1122.38 L1217.62 1121.92 L1218.42 1121.45 L1219.22 1120.97 L1220.03 1120.49 L1220.83 1120 L1221.63 1119.51 L1222.44 1119.01 L1223.24 1118.5 L1224.04 1117.99 L1224.84 1117.47 L1225.65 1116.94 L1226.45 1116.41 L1227.25 1115.87 L1228.05 1115.33 L1228.86 1114.78 L1229.66 1114.22 L1230.46 1113.66 L1231.26 1113.1 L1232.07 1112.52 L1232.87 1111.95 L1233.67 1111.36 L1234.48 1110.78 L1235.28 1110.18 L1236.08 1109.59 L1236.88 1108.98 L1237.69 1108.38 L1238.49 1107.77 L1239.29 1107.15 L1240.09 1106.53 L1240.9 1105.91 L1241.7 1105.28 L1242.5 1104.65 L1243.3 1104.01 L1244.11 1103.37 L1244.91 1102.73 L1245.71 1102.08 L1246.52 1101.43 L1247.32 1100.78 L1248.12 1100.12 L1248.92 1099.47 L1249.73 1098.81 L1250.53 1098.15 L1251.33 1097.48 L1252.13 1096.82 L1252.94 1096.15 L1253.74 1095.48 L1254.54 1094.81 L1255.34 1094.14 L1256.15 1093.47 L1256.95 1092.8 L1257.75 1092.12 L1258.55 1091.45 L1259.36 1090.78 L1260.16 1090.11 L1260.96 1089.44 L1261.77 1088.77 L1262.57 1088.1 L1263.37 1087.43 L1264.17 1086.77 L1264.98 1086.11 L1265.78 1085.44 L1266.58 1084.79 L1267.38 1084.13 L1268.19 1083.48 L1268.99 1082.83 L1269.79 1082.19 L1270.59 1081.55 L1271.4 1080.91 L1272.2 1080.28 L1273 1079.66 L1273.81 1079.04 L1274.61 1078.43 L1275.41 1077.82 L1276.21 1077.22 L1277.02 1076.62 L1277.82 1076.04 L1278.62 1075.46 L1279.42 1074.89 L1280.23 1074.33 L1281.03 1073.77 L1281.83 1073.23 L1282.63 1072.7 L1283.44 1072.17 L1284.24 1071.66 L1285.04 1071.16 L1285.84 1070.66 L1286.65 1070.18 L1287.45 1069.71 L1288.25 1069.26 L1289.06 1068.82 L1289.86 1068.39 L1290.66 1067.97 L1291.46 1067.57 L1292.27 1067.18 L1293.07 1066.81 L1293.87 1066.45 L1294.67 1066.11 L1295.48 1065.79 L1296.28 1065.48 L1297.08 1065.19 L1297.88 1064.92 L1298.69 1064.66 L1299.49 1064.42 L1300.29 1064.2 L1301.1 1064.01 L1301.9 1063.83 L1302.7 1063.67 L1303.5 1063.53 L1304.31 1063.41 L1305.11 1063.32 L1305.91 1063.24 L1306.71 1063.19 L1307.52 1063.16 L1308.32 1063.15 L1309.12 1063.17 L1309.92 1063.21 L1310.73 1063.28 L1311.53 1063.37 L1312.33 1063.48 L1313.13 1063.62 L1313.94 1063.79 L1314.74 1063.98 L1315.54 1064.2 L1316.35 1064.44 L1317.15 1064.71 L1317.95 1065.01 L1318.75 1065.34 L1319.56 1065.69 L1320.36 1066.07 L1321.16 1066.49 L1321.96 1066.93 L1322.77 1067.4 L1323.57 1067.89 L1324.37 1068.42 L1325.17 1068.98 L1325.98 1069.57 L1326.78 1070.18 L1327.58 1070.83 L1328.39 1071.51 L1329.19 1072.22 L1329.99 1072.96 L1330.79 1073.72 L1331.6 1074.52 L1332.4 1075.36 L1333.2 1076.22 L1334 1077.11 L1334.81 1078.03 L1335.61 1078.99 L1336.41 1079.97 L1337.21 1080.99 L1338.02 1082.03 L1338.82 1083.11 L1339.62 1084.22 L1340.43 1085.35 L1341.23 1086.52 L1342.03 1087.71 L1342.83 1088.94 L1343.64 1090.19 L1344.44 1091.48 L1345.24 1092.79 L1346.04 1094.13 L1346.85 1095.5 L1347.65 1096.89 L1348.45 1098.32 L1349.25 1099.77 L1350.06 1101.24 L1350.86 1102.74 L1351.66 1104.27 L1352.46 1105.82 L1353.27 1107.39 L1354.07 1108.98 L1354.87 1110.6 L1355.68 1112.24 L1356.48 1113.9 L1357.28 1115.59 L1358.08 1117.29 L1358.89 1119.01 L1359.69 1120.74 L1360.49 1122.5 L1361.29 1124.27 L1362.1 1126.05 L1362.9 1127.85 L1363.7 1129.66 L1364.5 1131.48 L1365.31 1133.32 L1366.11 1135.16 L1366.91 1137.02 L1367.72 1138.87 L1368.52 1140.74 L1369.32 1142.61 L1370.12 1144.49 L1370.93 1146.36 L1371.73 1148.24 L1372.53 1150.12 L1373.33 1152 L1374.14 1153.87 L1374.94 1155.74 L1375.74 1157.61 L1376.54 1159.46 L1377.35 1161.31 L1378.15 1163.15 L1378.95 1164.98 L1379.75 1166.79 L1380.56 1168.59 L1381.36 1170.38 L1382.16 1172.15 L1382.97 1173.89 L1383.77 1175.62 L1384.57 1177.32 L1385.37 1179 L1386.18 1180.66 L1386.98 1182.29 L1387.78 1183.88 L1388.58 1185.45 L1389.39 1186.99 L1390.19 1188.49 L1390.99 1189.96 L1391.79 1191.39 L1392.6 1192.78 L1393.4 1194.14 L1394.2 1195.45 L1395.01 1196.72 L1395.81 1197.94 L1396.61 1199.12 L1397.41 1200.25 L1398.22 1201.33 L1399.02 1202.36 L1399.82 1203.33 L1400.62 1204.26 L1401.43 1205.13 L1402.23 1205.94 L1403.03 1206.7 L1403.83 1207.39 L1404.64 1208.03 L1405.44 1208.61 L1406.24 1209.12 L1407.05 1209.57 L1407.85 1209.95 L1408.65 1210.27 L1409.45 1210.53 L1410.26 1210.71 L1411.06 1210.83 L1411.86 1210.88 L1412.66 1210.85 L1413.47 1210.76 L1414.27 1210.6 L1415.07 1210.36 L1415.87 1210.05 L1416.68 1209.67 L1417.48 1209.22 L1418.28 1208.7 L1419.08 1208.1 L1419.89 1207.42 L1420.69 1206.68 L1421.49 1205.86 L1422.3 1204.97 L1423.1 1204 L1423.9 1202.97 L1424.7 1201.86 L1425.51 1200.68 L1426.31 1199.43 L1427.11 1198.1 L1427.91 1196.71 L1428.72 1195.25 L1429.52 1193.73 L1430.32 1192.13 L1431.12 1190.48 L1431.93 1188.75 L1432.73 1186.97 L1433.53 1185.12 L1434.34 1183.22 L1435.14 1181.25 L1435.94 1179.23 L1436.74 1177.16 L1437.55 1175.03 L1438.35 1172.85 L1439.15 1170.63 L1439.95 1168.36 L1440.76 1166.05 L1441.56 1163.69 L1442.36 1161.3 L1443.16 1158.87 L1443.97 1156.4 L1444.77 1153.91 L1445.57 1151.39 L1446.37 1148.84 L1447.18 1146.27 L1447.98 1143.69 L1448.78 1141.08 L1449.59 1138.47 L1450.39 1135.84 L1451.19 1133.21 L1451.99 1130.58 L1452.8 1127.95 L1453.6 1125.32 L1454.4 1122.7 L1455.2 1120.09 L1456.01 1117.49 L1456.81 1114.92 L1457.61 1112.37 L1458.41 1109.84 L1459.22 1107.34 L1460.02 1104.88 L1460.82 1102.45 L1461.63 1100.06 L1462.43 1097.72 L1463.23 1095.42 L1464.03 1093.18 L1464.84 1090.99 L1465.64 1088.86 L1466.44 1086.79 L1467.24 1084.79 L1468.05 1082.85 L1468.85 1080.99 L1469.65 1079.21 L1470.45 1077.5 L1471.26 1075.87 L1472.06 1074.33 L1472.86 1072.88 L1473.66 1071.52 L1474.47 1070.25 L1475.27 1069.08 L1476.07 1068.01 L1476.88 1067.04 L1477.68 1066.17 L1478.48 1065.41 L1479.28 1064.75 L1480.09 1064.21 L1480.89 1063.78 L1481.69 1063.46 L1482.49 1063.25 L1483.3 1063.16 L1484.1 1063.18 L1484.9 1063.33 L1485.7 1063.59 L1486.51 1063.96 L1487.31 1064.46 L1488.11 1065.08 L1488.92 1065.81 L1489.72 1066.66 L1490.52 1067.64 L1491.32 1068.72 L1492.13 1069.93 L1492.93 1071.24 L1493.73 1072.68 L1494.53 1074.22 L1495.34 1075.87 L1496.14 1077.64 L1496.94 1079.5 L1497.74 1081.47 L1498.55 1083.54 L1499.35 1085.71 L1500.15 1087.98 L1500.96 1090.33 L1501.76 1092.78 L1502.56 1095.3 L1503.36 1097.91 L1504.17 1100.59 L1504.97 1103.35 L1505.77 1106.17 L1506.57 1109.05 L1507.38 1112 L1508.18 1114.99 L1508.98 1118.03 L1509.78 1121.12 L1510.59 1124.24 L1511.39 1127.39 L1512.19 1130.57 L1512.99 1133.76 L1513.8 1136.97 L1514.6 1140.19 L1515.4 1143.41 L1516.21 1146.63 L1517.01 1149.83 L1517.81 1153.02 L1518.61 1156.18 L1519.42 1159.31 L1520.22 1162.4 L1521.02 1165.46 L1521.82 1168.46 L1522.63 1171.41 L1523.43 1174.29 L1524.23 1177.11 L1525.03 1179.85 L1525.84 1182.52 L1526.64 1185.09 L1527.44 1187.58 L1528.25 1189.96 L1529.05 1192.24 L1529.85 1194.42 L1530.65 1196.48 L1531.46 1198.42 L1532.26 1200.23 L1533.06 1201.92 L1533.86 1203.47 L1534.67 1204.88 L1535.47 1206.16 L1536.27 1207.29 L1537.07 1208.27 L1537.88 1209.09 L1538.68 1209.77 L1539.48 1210.28 L1540.28 1210.64 L1541.09 1210.84 L1541.89 1210.87 L1542.69 1210.74 L1543.5 1210.45 L1544.3 1209.99 L1545.1 1209.36 L1545.9 1208.58 L1546.71 1207.62 L1547.51 1206.51 L1548.31 1205.24 L1549.11 1203.8 L1549.92 1202.21 L1550.72 1200.47 L1551.52 1198.57 L1552.32 1196.53 L1553.13 1194.34 L1553.93 1192.01 L1554.73 1189.55 L1555.54 1186.96 L1556.34 1184.25 L1557.14 1181.42 L1557.94 1178.47 L1558.75 1175.42 L1559.55 1172.27 L1560.35 1169.03 L1561.15 1165.7 L1561.96 1162.3 L1562.76 1158.83 L1563.56 1155.29 L1564.36 1151.71 L1565.17 1148.08 L1565.97 1144.41 L1566.77 1140.72 L1567.58 1137.02 L1568.38 1133.31 L1569.18 1129.62 L1569.98 1125.95 L1570.79 1122.32 L1571.59 1118.74 L1572.39 1115.2 L1573.19 1111.73 L1574 1108.33 L1574.8 1105 L1575.6 1101.76 L1576.4 1098.61 L1577.21 1095.56 L1578.01 1092.61 L1578.81 1089.78 L1579.61 1087.07 L1580.42 1084.48 L1581.22 1082.02 L1582.02 1079.69 L1582.83 1077.5 L1583.63 1075.46 L1584.43 1073.56 L1585.23 1071.82 L1586.04 1070.23 L1586.84 1068.79 L1587.64 1067.52 L1588.44 1066.41 L1589.25 1065.45 L1590.05 1064.67 L1590.85 1064.04 L1591.65 1063.58 L1592.46 1063.29 L1593.26 1063.16 L1594.06 1063.19 L1594.87 1063.39 L1595.67 1063.75 L1596.47 1064.26 L1597.27 1064.94 L1598.08 1065.76 L1598.88 1066.74 L1599.68 1067.87 L1600.48 1069.15 L1601.29 1070.56 L1602.09 1072.11 L1602.89 1073.8 L1603.69 1075.61 L1604.5 1077.55 L1605.3 1079.61 L1606.1 1081.79 L1606.9 1084.07 L1607.71 1086.45 L1608.51 1088.94 L1609.31 1091.51 L1610.12 1094.18 L1610.92 1096.92 L1611.72 1099.74 L1612.52 1102.62 L1613.33 1105.57 L1614.13 1108.57 L1614.93 1111.63 L1615.73 1114.72 L1616.54 1117.85 L1617.34 1121.01 L1618.14 1124.2 L1618.94 1127.4 L1619.75 1130.62 L1620.55 1133.84 L1621.35 1137.06 L1622.16 1140.27 L1622.96 1143.46 L1623.76 1146.64 L1624.56 1149.79 L1625.37 1152.91 L1626.17 1156 L1626.97 1159.04 L1627.77 1162.03 L1628.58 1164.98 L1629.38 1167.86 L1630.18 1170.68 L1630.98 1173.44 L1631.79 1176.12 L1632.59 1178.73 L1633.39 1181.25 L1634.19 1183.7 L1635 1186.05 L1635.8 1188.32 L1636.6 1190.49 L1637.41 1192.56 L1638.21 1194.53 L1639.01 1196.39 L1639.81 1198.16 L1640.62 1199.81 L1641.42 1201.35 L1642.22 1202.79 L1643.02 1204.1 L1643.83 1205.31 L1644.63 1206.39 L1645.43 1207.37 L1646.23 1208.22 L1647.04 1208.95 L1647.84 1209.57 L1648.64 1210.07 L1649.45 1210.44 L1650.25 1210.7 L1651.05 1210.85 L1651.85 1210.87 L1652.66 1210.78 L1653.46 1210.57 L1654.26 1210.25 L1655.06 1209.82 L1655.87 1209.28 L1656.67 1208.62 L1657.47 1207.86 L1658.27 1206.99 L1659.08 1206.02 L1659.88 1204.95 L1660.68 1203.78 L1661.49 1202.51 L1662.29 1201.15 L1663.09 1199.7 L1663.89 1198.16 L1664.7 1196.53 L1665.5 1194.82 L1666.3 1193.04 L1667.1 1191.18 L1667.91 1189.24 L1668.71 1187.24 L1669.51 1185.17 L1670.31 1183.04 L1671.12 1180.85 L1671.92 1178.61 L1672.72 1176.31 L1673.52 1173.97 L1674.33 1171.58 L1675.13 1169.15 L1675.93 1166.69 L1676.74 1164.19 L1677.54 1161.66 L1678.34 1159.11 L1679.14 1156.54 L1679.95 1153.94 L1680.75 1151.33 L1681.55 1148.71 L1682.35 1146.08 L1683.16 1143.45 L1683.96 1140.82 L1684.76 1138.19 L1685.56 1135.56 L1686.37 1132.95 L1687.17 1130.34 L1687.97 1127.76 L1688.78 1125.19 L1689.58 1122.64 L1690.38 1120.12 L1691.18 1117.63 L1691.99 1115.16 L1692.79 1112.73 L1693.59 1110.34 L1694.39 1107.98 L1695.2 1105.67 L1696 1103.4 L1696.8 1101.18 L1697.6 1099 L1698.41 1096.87 L1699.21 1094.8 L1700.01 1092.78 L1700.81 1090.81 L1701.62 1088.91 L1702.42 1087.06 L1703.22 1085.28 L1704.03 1083.55 L1704.83 1081.9 L1705.63 1080.3 L1706.43 1078.78 L1707.24 1077.32 L1708.04 1075.93 L1708.84 1074.6 L1709.64 1073.35 L1710.45 1072.17 L1711.25 1071.06 L1712.05 1070.03 L1712.85 1069.06 L1713.66 1068.17 L1714.46 1067.35 L1715.26 1066.61 L1716.07 1065.93 L1716.87 1065.33 L1717.67 1064.81 L1718.47 1064.36 L1719.28 1063.98 L1720.08 1063.67 L1720.88 1063.43 L1721.68 1063.27 L1722.49 1063.18 L1723.29 1063.15 L1724.09 1063.2 L1724.89 1063.32 L1725.7 1063.5 L1726.5 1063.76 L1727.3 1064.08 L1728.11 1064.46 L1728.91 1064.91 L1729.71 1065.42 L1730.51 1066 L1731.32 1066.64 L1732.12 1067.33 L1732.92 1068.09 L1733.72 1068.9 L1734.53 1069.77 L1735.33 1070.7 L1736.13 1071.67 L1736.93 1072.7 L1737.74 1073.78 L1738.54 1074.91 L1739.34 1076.09 L1740.14 1077.31 L1740.95 1078.58 L1741.75 1079.89 L1742.55 1081.25 L1743.36 1082.64 L1744.16 1084.07 L1744.96 1085.54 L1745.76 1087.04 L1746.57 1088.58 L1747.37 1090.15 L1748.17 1091.74 L1748.97 1093.37 L1749.78 1095.03 L1750.58 1096.71 L1751.38 1098.41 L1752.18 1100.14 L1752.99 1101.88 L1753.79 1103.65 L1754.59 1105.44 L1755.4 1107.24 L1756.2 1109.05 L1757 1110.88 L1757.8 1112.72 L1758.61 1114.57 L1759.41 1116.42 L1760.21 1118.29 L1761.01 1120.16 L1761.82 1122.03 L1762.62 1123.91 L1763.42 1125.79 L1764.22 1127.67 L1765.03 1129.54 L1765.83 1131.42 L1766.63 1133.29 L1767.43 1135.16 L1768.24 1137.01 L1769.04 1138.87 L1769.84 1140.71 L1770.65 1142.55 L1771.45 1144.37 L1772.25 1146.18 L1773.05 1147.98 L1773.86 1149.76 L1774.66 1151.53 L1775.46 1153.29 L1776.26 1155.02 L1777.07 1156.74 L1777.87 1158.44 L1778.67 1160.13 L1779.47 1161.79 L1780.28 1163.43 L1781.08 1165.05 L1781.88 1166.64 L1782.69 1168.21 L1783.49 1169.76 L1784.29 1171.29 L1785.09 1172.79 L1785.9 1174.26 L1786.7 1175.71 L1787.5 1177.14 L1788.3 1178.53 L1789.11 1179.9 L1789.91 1181.24 L1790.71 1182.55 L1791.51 1183.84 L1792.32 1185.09 L1793.12 1186.32 L1793.92 1187.51 L1794.72 1188.68 L1795.53 1189.81 L1796.33 1190.92 L1797.13 1192 L1797.94 1193.04 L1798.74 1194.06 L1799.54 1195.04 L1800.34 1196 L1801.15 1196.92 L1801.95 1197.81 L1802.75 1198.67 L1803.55 1199.51 L1804.36 1200.31 L1805.16 1201.07 L1805.96 1201.81 L1806.76 1202.52 L1807.57 1203.2 L1808.37 1203.85 L1809.17 1204.46 L1809.98 1205.05 L1810.78 1205.61 L1811.58 1206.14 L1812.38 1206.63 L1813.19 1207.1 L1813.99 1207.54 L1814.79 1207.96 L1815.59 1208.34 L1816.4 1208.69 L1817.2 1209.02 L1818 1209.32 L1818.8 1209.59 L1819.61 1209.83 L1820.41 1210.05 L1821.21 1210.24 L1822.02 1210.41 L1822.82 1210.55 L1823.62 1210.66 L1824.42 1210.75 L1825.23 1210.82 L1826.03 1210.86 L1826.83 1210.88 L1827.63 1210.87 L1828.44 1210.84 L1829.24 1210.79 L1830.04 1210.71 L1830.84 1210.62 L1831.65 1210.5 L1832.45 1210.36 L1833.25 1210.2 L1834.05 1210.02 L1834.86 1209.83 L1835.66 1209.61 L1836.46 1209.37 L1837.27 1209.11 L1838.07 1208.84 L1838.87 1208.55 L1839.67 1208.24 L1840.48 1207.92 L1841.28 1207.58 L1842.08 1207.22 L1842.88 1206.85 L1843.69 1206.46 L1844.49 1206.06 L1845.29 1205.64 L1846.09 1205.21 L1846.9 1204.77 L1847.7 1204.32 L1848.5 1203.85 L1849.31 1203.37 L1850.11 1202.87 L1850.91 1202.37 L1851.71 1201.86 L1852.52 1201.33 L1853.32 1200.8 L1854.12 1200.26 L1854.92 1199.7 L1855.73 1199.14 L1856.53 1198.57 L1857.33 1197.99 L1858.13 1197.41 L1858.94 1196.81 L1859.74 1196.21 L1860.54 1195.6 L1861.34 1194.99 L1862.15 1194.37 L1862.95 1193.75 L1863.75 1193.12 L1864.56 1192.48 L1865.36 1191.84 L1866.16 1191.2 L1866.96 1190.55 L1867.77 1189.9 L1868.57 1189.24 L1869.37 1188.59 L1870.17 1187.92 L1870.98 1187.26 L1871.78 1186.6 L1872.58 1185.93 L1873.38 1185.26 L1874.19 1184.59 L1874.99 1183.92 L1875.79 1183.25 L1876.6 1182.58 L1877.4 1181.91 L1878.2 1181.23 L1879 1180.56 L1879.81 1179.89 L1880.61 1179.22 L1881.41 1178.55 L1882.21 1177.88 L1883.02 1177.21 L1883.82 1176.55 L1884.62 1175.88 L1885.42 1175.22 L1886.23 1174.56 L1887.03 1173.91 L1887.83 1173.25 L1888.63 1172.6 L1889.44 1171.95 L1890.24 1171.3 L1891.04 1170.66 L1891.85 1170.02 L1892.65 1169.38 L1893.45 1168.75 L1894.25 1168.12 L1895.06 1167.5 L1895.86 1166.88 L1896.66 1166.26 L1897.46 1165.65 L1898.27 1165.05 L1899.07 1164.44 L1899.87 1163.85 L1900.67 1163.25 L1901.48 1162.67 L1902.28 1162.08 L1903.08 1161.51 L1903.89 1160.93 L1904.69 1160.37 L1905.49 1159.81 L1906.29 1159.25 L1907.1 1158.7 L1907.9 1158.16 L1908.7 1157.62 L1909.5 1157.09 L1910.31 1156.56 L1911.11 1156.04 L1911.91 1155.53 L1912.71 1155.02 L1913.52 1154.52 L1914.32 1154.03 L1915.12 1153.54 L1915.93 1153.06 L1916.73 1152.58 L1917.53 1152.11 L1918.33 1151.65 L1919.14 1151.2 L1919.94 1150.75 L1920.74 1150.31 L1921.54 1149.87 L1922.35 1149.45 L1923.15 1149.02 L1923.95 1148.61 L1924.75 1148.2 L1925.56 1147.8 L1926.36 1147.41 L1927.16 1147.02 L1927.96 1146.64 L1928.77 1146.27 L1929.57 1145.91 L1930.37 1145.55 L1931.18 1145.2 L1931.98 1144.86 L1932.78 1144.52 L1933.58 1144.19 L1934.39 1143.87 L1935.19 1143.56 L1935.99 1143.25 L1936.79 1142.95 L1937.6 1142.66 L1938.4 1142.37 L1939.2 1142.09 L1940 1141.82 L1940.81 1141.56 L1941.61 1141.3 L1942.41 1141.06 L1943.22 1140.82 L1944.02 1140.58 L1944.82 1140.36 L1945.62 1140.14 L1946.43 1139.92 L1947.23 1139.72 L1948.03 1139.52 L1948.83 1139.34 L1949.64 1139.15 L1950.44 1138.98 L1951.24 1138.81 L1952.04 1138.65 L1952.85 1138.5 L1953.65 1138.36 L1954.45 1138.22 L1955.25 1138.09 L1956.06 1137.97 L1956.86 1137.85 L1957.66 1137.74 L1958.47 1137.64 L1959.27 1137.55 L1960.07 1137.46 L1960.87 1137.39 L1961.68 1137.32 L1962.48 1137.25 L1963.28 1137.2 L1964.08 1137.15 L1964.89 1137.11 L1965.69 1137.07 L1966.49 1137.05 L1967.29 1137.03 L1968.1 1137.02 L1968.9 1137.02" stroke="#72b5da" stroke-width="5" stroke-opacity="1" fill="none" stroke-linecap="square" stroke-linejoin="round" clip-path="url(#c31)"/>
<rect x="1146.6" y="1054.79" width="844.2" height="165.45" fill="none" stroke="#000" stroke-width="2.9" stroke-linejoin="miter"/>
<path d="M1167.25 1220.24v11.8M1267.58 1220.24v11.8M1367.91 1220.24v11.8M1468.24 1220.24v11.8M1568.58 1220.24v11.8M1668.91 1220.24v11.8M1769.24 1220.24v11.8M1869.57 1220.24v11.8M1969.9 1220.24v11.8M1146.6 1211.38h-11.8M1146.6 1137.52h-11.8M1146.6 1063.65h-11.8" stroke="#000" stroke-width="2.3" fill="none"/>
</g>
<g filter="url(#tb)" stroke="#000" stroke-width="0.1">
<text transform="translate(152.95,257.2) scale(1.04,1)" font-size="29.3" text-anchor="middle">0.00</text>
<text transform="translate(253.59,257.2) scale(1.04,1)" font-size="29.3" text-anchor="middle">0.05</text>
<text transform="translate(354.24,257.2) scale(1.04,1)" font-size="29.3" text-anchor="middle">0.10</text>
<text transform="translate(454.88,257.2) scale(1.04,1)" font-size="29.3" text-anchor="middle">0.15</text>
<text transform="translate(555.53,257.2) scale(1.04,1)" font-size="29.3" text-anchor="middle">0.20</text>
<text transform="translate(656.17,257.2) scale(1.04,1)" font-size="29.3" text-anchor="middle">0.25</text>
<text transform="translate(756.81,257.2) scale(1.04,1)" font-size="29.3" text-anchor="middle">0.30</text>
<text transform="translate(857.46,257.2) scale(1.04,1)" font-size="29.3" text-anchor="middle">0.35</text>
<text transform="translate(958.1,257.2) scale(1.04,1)" font-size="29.3" text-anchor="middle">0.40</text>
<text transform="translate(112.1,221.15) scale(1.04,1)" font-size="29.3" text-anchor="end">0</text>
<text transform="translate(108.8,180.4) scale(1.04,1)" font-size="29.3" text-anchor="end">75</text>
<text transform="translate(108.8,139.65) scale(1.04,1)" font-size="29.3" text-anchor="end">150</text>
<text transform="translate(108.8,98.9) scale(1.04,1)" font-size="29.3" text-anchor="end">225</text>
<text transform="translate(108.8,58.15) scale(1.04,1)" font-size="29.3" text-anchor="end">300</text>
<text transform="translate(555.68,27.5) scale(1.02,1)" font-size="28.3" text-anchor="middle">T1 Motor Speed</text>
<text transform="translate(555.77,300.9) scale(1.02,1)" font-size="28.3" text-anchor="middle">Time (s)</text>
<text transform="translate(27.2,131.47) rotate(-90) scale(1.02,1)" font-size="28.3" text-anchor="middle">Speed (RPM)</text>
<text transform="translate(1167.25,257.2) scale(1.04,1)" font-size="29.3" text-anchor="middle">0.00</text>
<text transform="translate(1267.58,257.2) scale(1.04,1)" font-size="29.3" text-anchor="middle">0.05</text>
<text transform="translate(1367.91,257.2) scale(1.04,1)" font-size="29.3" text-anchor="middle">0.10</text>
<text transform="translate(1468.24,257.2) scale(1.04,1)" font-size="29.3" text-anchor="middle">0.15</text>
<text transform="translate(1568.58,257.2) scale(1.04,1)" font-size="29.3" text-anchor="middle">0.20</text>
<text transform="translate(1668.91,257.2) scale(1.04,1)" font-size="29.3" text-anchor="middle">0.25</text>
<text transform="translate(1769.24,257.2) scale(1.04,1)" font-size="29.3" text-anchor="middle">0.30</text>
<text transform="translate(1869.57,257.2) scale(1.04,1)" font-size="29.3" text-anchor="middle">0.35</text>
<text transform="translate(1969.9,257.2) scale(1.04,1)" font-size="29.3" text-anchor="middle">0.40</text>
<text transform="translate(1126.1,214.74) scale(1.04,1)" font-size="29.3" text-anchor="end">0</text>
<text transform="translate(1124.3,140.88) scale(1.04,1)" font-size="29.3" text-anchor="end">1</text>
<text transform="translate(1124.3,67.01) scale(1.04,1)" font-size="29.3" text-anchor="end">2</text>
<text transform="translate(1567.9,27.5) scale(1.02,1)" font-size="28.3" text-anchor="middle">Modulated Waveform for Symbol T1</text>
<text transform="translate(1568,300.9) scale(1.02,1)" font-size="28.3" text-anchor="middle">Time (s)</text>
<text transform="translate(1080.8,131.47) rotate(-90) scale(1.02,1)" font-size="28.3" text-anchor="middle">Amplitude (V)</text>
<text transform="translate(152.95,593.08) scale(1.04,1)" font-size="29.3" text-anchor="middle">0.00</text>
<text transform="translate(253.59,593.08) scale(1.04,1)" font-size="29.3" text-anchor="middle">0.05</text>
<text transform="translate(354.24,593.08) scale(1.04,1)" font-size="29.3" text-anchor="middle">0.10</text>
<text transform="translate(454.88,593.08) scale(1.04,1)" font-size="29.3" text-anchor="middle">0.15</text>
<text transform="translate(555.53,593.08) scale(1.04,1)" font-size="29.3" text-anchor="middle">0.20</text>
<text transform="translate(656.17,593.08) scale(1.04,1)" font-size="29.3" text-anchor="middle">0.25</text>
<text transform="translate(756.81,593.08) scale(1.04,1)" font-size="29.3" text-anchor="middle">0.30</text>
<text transform="translate(857.46,593.08) scale(1.04,1)" font-size="29.3" text-anchor="middle">0.35</text>
<text transform="translate(958.1,593.08) scale(1.04,1)" font-size="29.3" text-anchor="middle">0.40</text>
<text transform="translate(112.1,554.66) scale(1.04,1)" font-size="29.3" text-anchor="end">0</text>
<text transform="translate(108.8,514.5) scale(1.04,1)" font-size="29.3" text-anchor="end">75</text>
<text transform="translate(108.8,474.35) scale(1.04,1)" font-size="29.3" text-anchor="end">150</text>
<text transform="translate(108.8,434.19) scale(1.04,1)" font-size="29.3" text-anchor="end">225</text>
<text transform="translate(108.8,394.03) scale(1.04,1)" font-size="29.3" text-anchor="end">300</text>
<text transform="translate(555.68,363.38) scale(1.02,1)" font-size="28.3" text-anchor="middle">T2 Motor Speed</text>
<text transform="translate(555.77,636.78) scale(1.02,1)" font-size="28.3" text-anchor="middle">Time (s)</text>
<text transform="translate(27.2,467.36) rotate(-90) scale(1.02,1)" font-size="28.3" text-anchor="middle">Speed (RPM)</text>
<text transform="translate(1167.25,593.08) scale(1.04,1)" font-size="29.3" text-anchor="middle">0.00</text>
<text transform="translate(1267.58,593.08) scale(1.04,1)" font-size="29.3" text-anchor="middle">0.05</text>
<text transform="translate(1367.91,593.08) scale(1.04,1)" font-size="29.3" text-anchor="middle">0.10</text>
<text transform="translate(1468.24,593.08) scale(1.04,1)" font-size="29.3" text-anchor="middle">0.15</text>
<text transform="translate(1568.58,593.08) scale(1.04,1)" font-size="29.3" text-anchor="middle">0.20</text>
<text transform="translate(1668.91,593.08) scale(1.04,1)" font-size="29.3" text-anchor="middle">0.25</text>
<text transform="translate(1769.24,593.08) scale(1.04,1)" font-size="29.3" text-anchor="middle">0.30</text>
<text transform="translate(1869.57,593.08) scale(1.04,1)" font-size="29.3" text-anchor="middle">0.35</text>
<text transform="translate(1969.9,593.08) scale(1.04,1)" font-size="29.3" text-anchor="middle">0.40</text>
<text transform="translate(1126.1,550.62) scale(1.04,1)" font-size="29.3" text-anchor="end">0</text>
<text transform="translate(1124.3,476.75) scale(1.04,1)" font-size="29.3" text-anchor="end">1</text>
<text transform="translate(1124.3,402.89) scale(1.04,1)" font-size="29.3" text-anchor="end">2</text>
<text transform="translate(1567.9,363.38) scale(1.02,1)" font-size="28.3" text-anchor="middle">Modulated Waveform for Symbol T2</text>
<text transform="translate(1568,636.78) scale(1.02,1)" font-size="28.3" text-anchor="middle">Time (s)</text>
<text transform="translate(1080.8,467.36) rotate(-90) scale(1.02,1)" font-size="28.3" text-anchor="middle">Amplitude (V)</text>
<text transform="translate(152.95,928.96) scale(1.04,1)" font-size="29.3" text-anchor="middle">0.00</text>
<text transform="translate(253.59,928.96) scale(1.04,1)" font-size="29.3" text-anchor="middle">0.05</text>
<text transform="translate(354.24,928.96) scale(1.04,1)" font-size="29.3" text-anchor="middle">0.10</text>
<text transform="translate(454.88,928.96) scale(1.04,1)" font-size="29.3" text-anchor="middle">0.15</text>
<text transform="translate(555.53,928.96) scale(1.04,1)" font-size="29.3" text-anchor="middle">0.20</text>
<text transform="translate(656.17,928.96) scale(1.04,1)" font-size="29.3" text-anchor="middle">0.25</text>
<text transform="translate(756.81,928.96) scale(1.04,1)" font-size="29.3" text-anchor="middle">0.30</text>
<text transform="translate(857.46,928.96) scale(1.04,1)" font-size="29.3" text-anchor="middle">0.35</text>
<text transform="translate(958.1,928.96) scale(1.04,1)" font-size="29.3" text-anchor="middle">0.40</text>
<text transform="translate(112.1,888.24) scale(1.04,1)" font-size="29.3" text-anchor="end">0</text>
<text transform="translate(108.8,848.65) scale(1.04,1)" font-size="29.3" text-anchor="end">75</text>
<text transform="translate(108.8,809.07) scale(1.04,1)" font-size="29.3" text-anchor="end">150</text>
<text transform="translate(108.8,769.49) scale(1.04,1)" font-size="29.3" text-anchor="end">225</text>
<text transform="translate(108.8,729.91) scale(1.04,1)" font-size="29.3" text-anchor="end">300</text>
<text transform="translate(555.68,699.26) scale(1.02,1)" font-size="28.3" text-anchor="middle">T3 Motor Speed</text>
<text transform="translate(555.77,972.66) scale(1.02,1)" font-size="28.3" text-anchor="middle">Time (s)</text>
<text transform="translate(27.2,803.24) rotate(-90) scale(1.02,1)" font-size="28.3" text-anchor="middle">Speed (RPM)</text>
<text transform="translate(1167.25,928.96) scale(1.04,1)" font-size="29.3" text-anchor="middle">0.00</text>
<text transform="translate(1267.58,928.96) scale(1.04,1)" font-size="29.3" text-anchor="middle">0.05</text>
<text transform="translate(1367.91,928.96) scale(1.04,1)" font-size="29.3" text-anchor="middle">0.10</text>
<text transform="translate(1468.24,928.96) scale(1.04,1)" font-size="29.3" text-anchor="middle">0.15</text>
<text transform="translate(1568.58,928.96) scale(1.04,1)" font-size="29.3" text-anchor="middle">0.20</text>
<text transform="translate(1668.91,928.96) scale(1.04,1)" font-size="29.3" text-anchor="middle">0.25</text>
<text transform="translate(1769.24,928.96) scale(1.04,1)" font-size="29.3" text-anchor="middle">0.30</text>
<text transform="translate(1869.57,928.96) scale(1.04,1)" font-size="29.3" text-anchor="middle">0.35</text>
<text transform="translate(1969.9,928.96) scale(1.04,1)" font-size="29.3" text-anchor="middle">0.40</text>
<text transform="translate(1126.1,886.5) scale(1.04,1)" font-size="29.3" text-anchor="end">0</text>
<text transform="translate(1124.3,812.63) scale(1.04,1)" font-size="29.3" text-anchor="end">1</text>
<text transform="translate(1124.3,738.77) scale(1.04,1)" font-size="29.3" text-anchor="end">2</text>
<text transform="translate(1567.9,699.26) scale(1.02,1)" font-size="28.3" text-anchor="middle">Modulated Waveform for Symbol T3</text>
<text transform="translate(1568,972.66) scale(1.02,1)" font-size="28.3" text-anchor="middle">Time (s)</text>
<text transform="translate(1080.8,803.24) rotate(-90) scale(1.02,1)" font-size="28.3" text-anchor="middle">Amplitude (V)</text>
<text transform="translate(152.95,1264.84) scale(1.04,1)" font-size="29.3" text-anchor="middle">0.00</text>
<text transform="translate(253.59,1264.84) scale(1.04,1)" font-size="29.3" text-anchor="middle">0.05</text>
<text transform="translate(354.24,1264.84) scale(1.04,1)" font-size="29.3" text-anchor="middle">0.10</text>
<text transform="translate(454.88,1264.84) scale(1.04,1)" font-size="29.3" text-anchor="middle">0.15</text>
<text transform="translate(555.53,1264.84) scale(1.04,1)" font-size="29.3" text-anchor="middle">0.20</text>
<text transform="translate(656.17,1264.84) scale(1.04,1)" font-size="29.3" text-anchor="middle">0.25</text>
<text transform="translate(756.81,1264.84) scale(1.04,1)" font-size="29.3" text-anchor="middle">0.30</text>
<text transform="translate(857.46,1264.84) scale(1.04,1)" font-size="29.3" text-anchor="middle">0.35</text>
<text transform="translate(958.1,1264.84) scale(1.04,1)" font-size="29.3" text-anchor="middle">0.40</text>
<text transform="translate(112.1,1222.38) scale(1.04,1)" font-size="29.3" text-anchor="end">0</text>
<text transform="translate(108.8,1185.45) scale(1.04,1)" font-size="29.3" text-anchor="end">75</text>
<text transform="translate(108.8,1148.52) scale(1.04,1)" font-size="29.3" text-anchor="end">150</text>
<text transform="translate(108.8,1111.58) scale(1.04,1)" font-size="29.3" text-anchor="end">225</text>
<text transform="translate(108.8,1074.65) scale(1.04,1)" font-size="29.3" text-anchor="end">300</text>
<text transform="translate(555.68,1035.14) scale(1.02,1)" font-size="28.3" text-anchor="middle">T4 Motor Speed</text>
<text transform="translate(555.77,1308.54) scale(1.02,1)" font-size="28.3" text-anchor="middle">Time (s)</text>
<text transform="translate(27.2,1139.11) rotate(-90) scale(1.02,1)" font-size="28.3" text-anchor="middle">Speed (RPM)</text>
<text transform="translate(1167.25,1264.84) scale(1.04,1)" font-size="29.3" text-anchor="middle">0.00</text>
<text transform="translate(1267.58,1264.84) scale(1.04,1)" font-size="29.3" text-anchor="middle">0.05</text>
<text transform="translate(1367.91,1264.84) scale(1.04,1)" font-size="29.3" text-anchor="middle">0.10</text>
<text transform="translate(1468.24,1264.84) scale(1.04,1)" font-size="29.3" text-anchor="middle">0.15</text>
<text transform="translate(1568.58,1264.84) scale(1.04,1)" font-size="29.3" text-anchor="middle">0.20</text>
<text transform="translate(1668.91,1264.84) scale(1.04,1)" font-size="29.3" text-anchor="middle">0.25</text>
<text transform="translate(1769.24,1264.84) scale(1.04,1)" font-size="29.3" text-anchor="middle">0.30</text>
<text transform="translate(1869.57,1264.84) scale(1.04,1)" font-size="29.3" text-anchor="middle">0.35</text>
<text transform="translate(1969.9,1264.84) scale(1.04,1)" font-size="29.3" text-anchor="middle">0.40</text>
<text transform="translate(1126.1,1222.38) scale(1.04,1)" font-size="29.3" text-anchor="end">0</text>
<text transform="translate(1124.3,1148.52) scale(1.04,1)" font-size="29.3" text-anchor="end">1</text>
<text transform="translate(1124.3,1074.65) scale(1.04,1)" font-size="29.3" text-anchor="end">2</text>
<text transform="translate(1567.9,1035.14) scale(1.02,1)" font-size="28.3" text-anchor="middle">Modulated Waveform for Symbol T4</text>
<text transform="translate(1568,1308.54) scale(1.02,1)" font-size="28.3" text-anchor="middle">Time (s)</text>
<text transform="translate(1080.8,1139.11) rotate(-90) scale(1.02,1)" font-size="28.3" text-anchor="middle">Amplitude (V)</text>
</g>
</svg>
</div></body></html>
